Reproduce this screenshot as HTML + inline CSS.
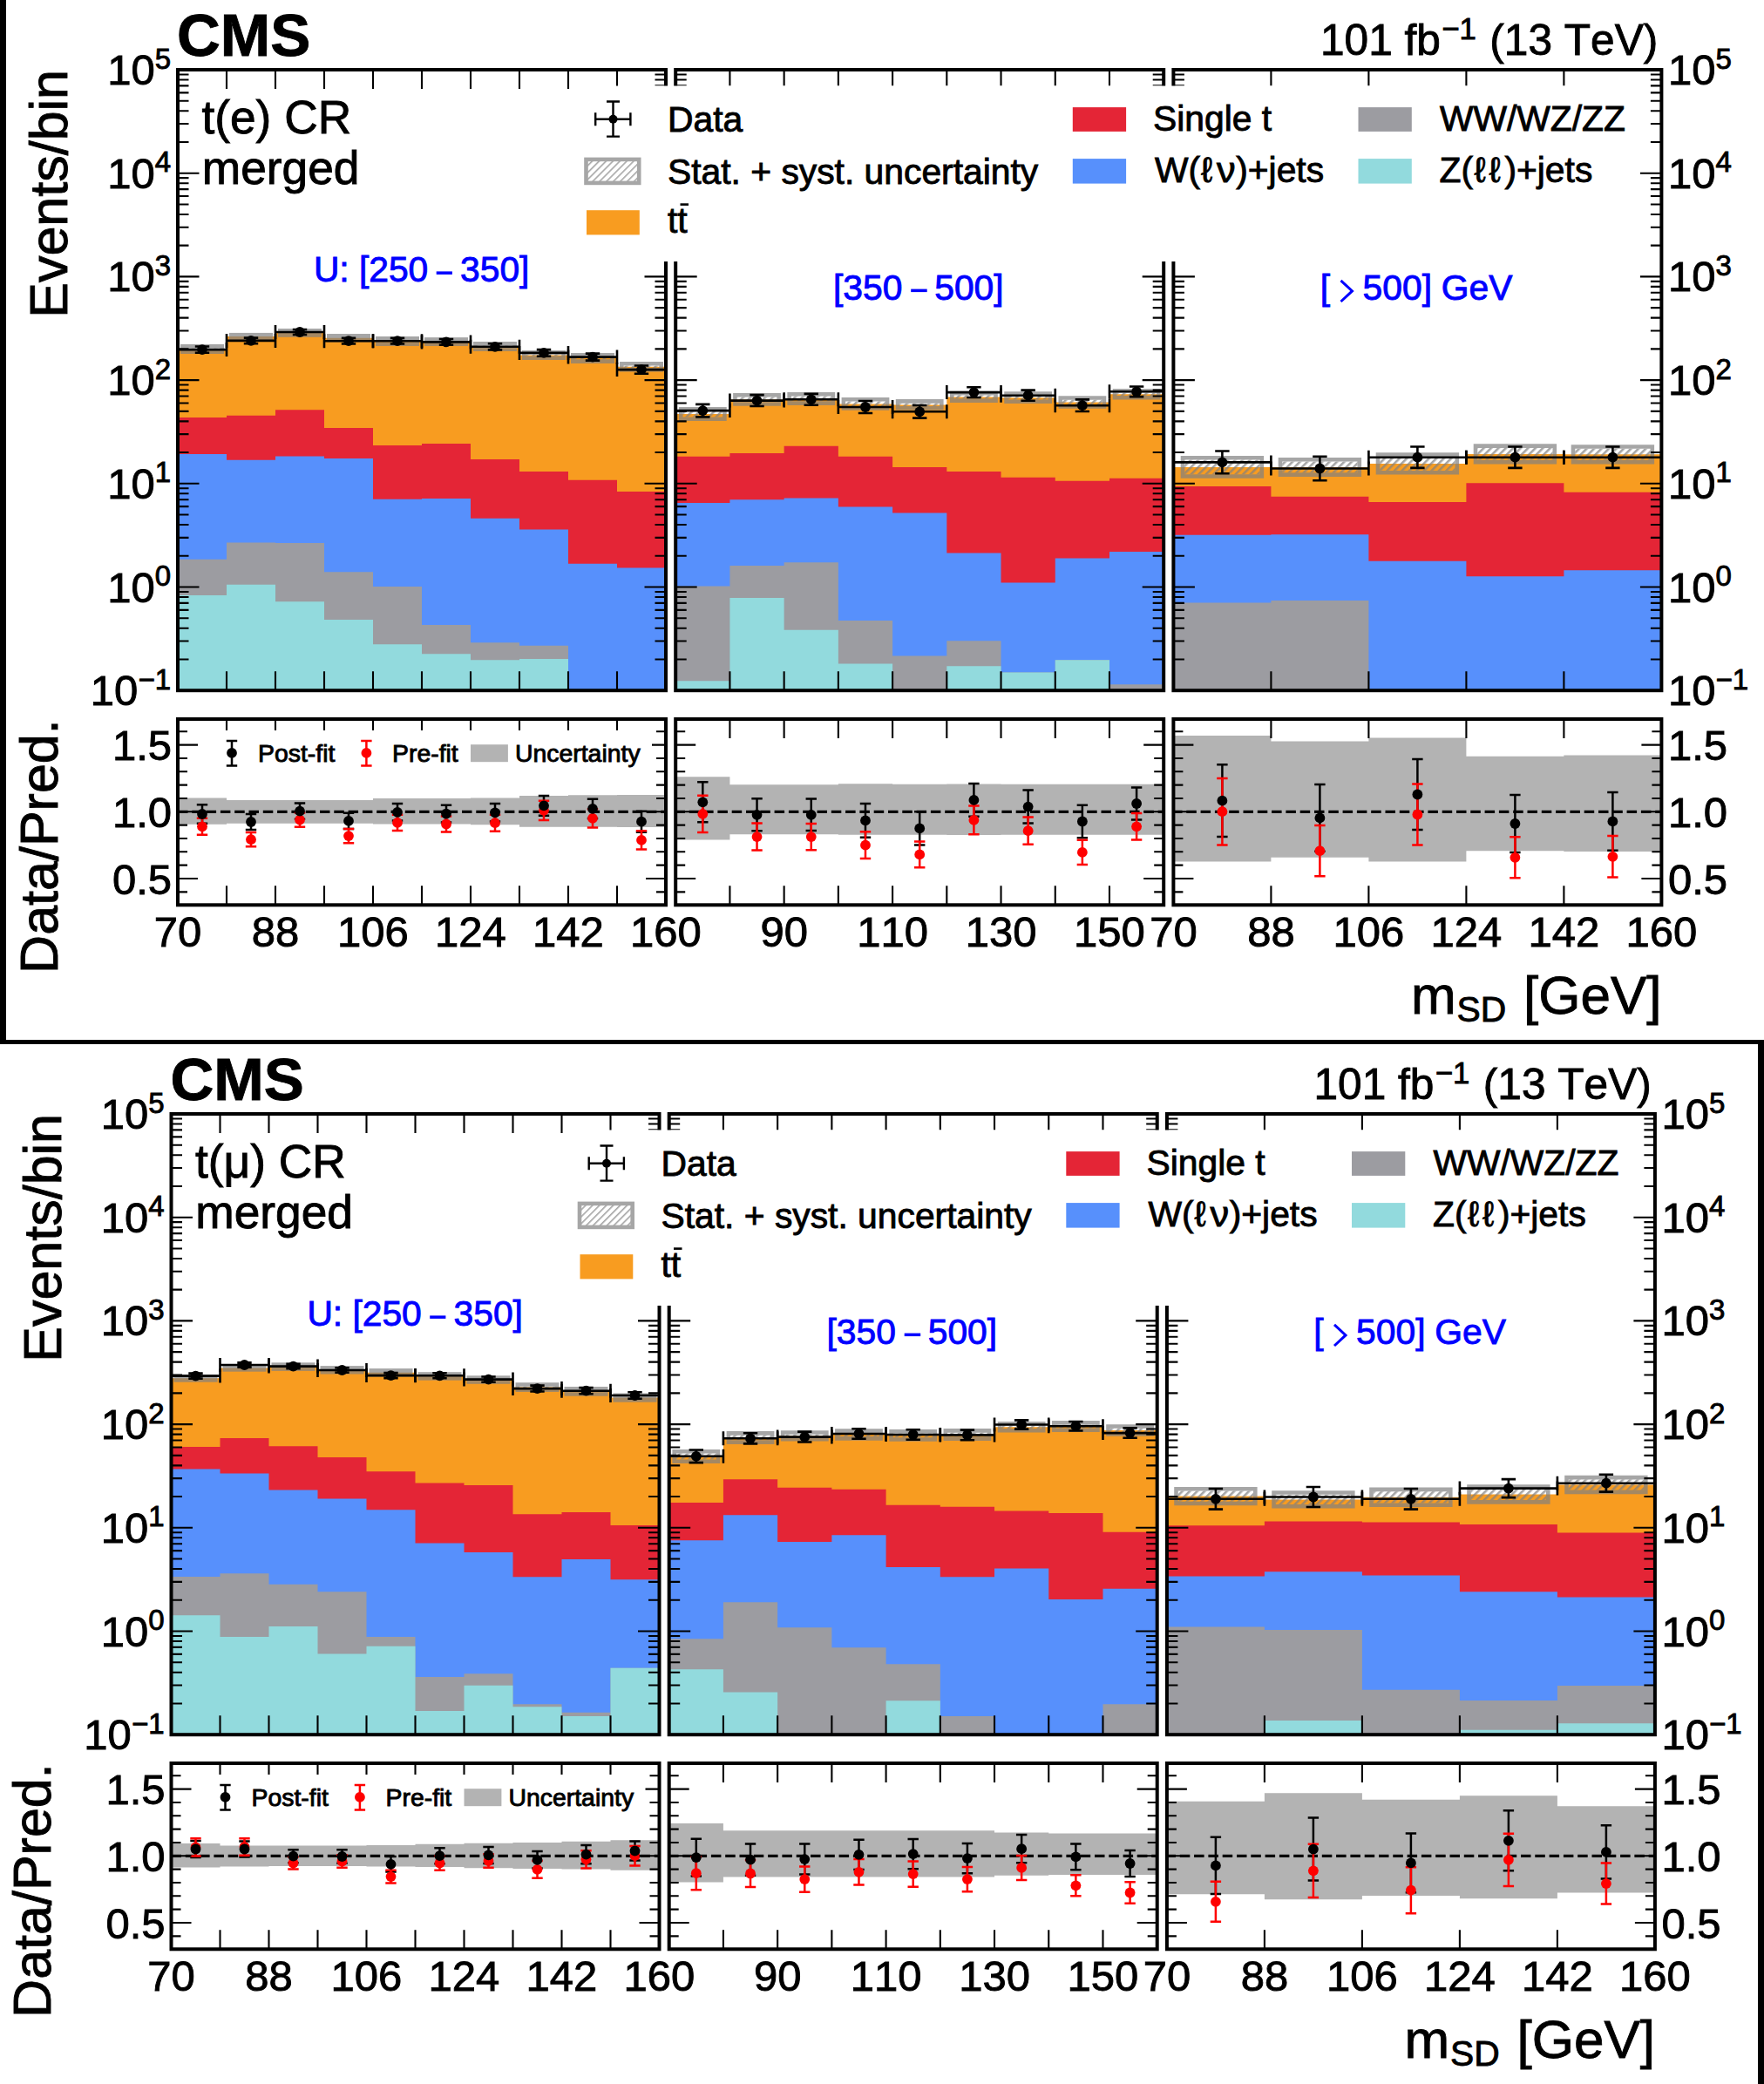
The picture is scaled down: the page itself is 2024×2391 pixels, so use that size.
<!DOCTYPE html><html><head><meta charset="utf-8"><style>html,body{margin:0;padding:0;background:#fff;}svg{display:block;}</style></head><body>
<svg width="2024" height="2391" viewBox="0 0 2024 2391">
<defs><pattern id="hatch" patternUnits="userSpaceOnUse" width="6" height="8" patternTransform="rotate(45)"><rect x="0" y="0" width="2.6" height="8" fill="#808080" fill-opacity="0.7"/></pattern><pattern id="hatchL" patternUnits="userSpaceOnUse" width="5.6" height="5.6" patternTransform="rotate(45)"><rect x="0" y="0" width="5.6" height="5.6" fill="#fff"/><rect x="0" y="0" width="1.6" height="5.6" fill="#a6a6a6"/></pattern></defs>
<rect width="2024" height="2391" fill="#fff"/>
<g>
<clipPath id="clipmt0"><rect x="204" y="80" width="560" height="712.2"/></clipPath>
<g clip-path="url(#clipmt0)">
<path d="M204,794.2 L204,400.5 L260,400.5 L260,386 L316,386 L316,381.9 L372,381.9 L372,387.7 L428,387.7 L428,391.5 L484,391.5 L484,392 L540,392 L540,397.5 L596,397.5 L596,407.5 L652,407.5 L652,410.9 L708,410.9 L708,420.8 L764,420.8 L764,794.2 Z" fill="#f89c20"/>
<path d="M204,794.2 L204,479 L260,479 L260,476.7 L316,476.7 L316,470.2 L372,470.2 L372,490.9 L428,490.9 L428,511 L484,511 L484,509 L540,509 L540,527 L596,527 L596,540.9 L652,540.9 L652,550.7 L708,550.7 L708,563.9 L764,563.9 L764,794.2 Z" fill="#e42536"/>
<path d="M204,794.2 L204,521.1 L260,521.1 L260,527.7 L316,527.7 L316,523.4 L372,523.4 L372,526.1 L428,526.1 L428,572.8 L484,572.8 L484,572.1 L540,572.1 L540,594.8 L596,594.8 L596,607.6 L652,607.6 L652,646.8 L708,646.8 L708,651.4 L764,651.4 L764,794.2 Z" fill="#5790fc"/>
<path d="M204,794.2 L204,641.8 L260,641.8 L260,622.4 L316,622.4 L316,623 L372,623 L372,656.3 L428,656.3 L428,673 L484,673 L484,717.1 L540,717.1 L540,737.2 L596,737.2 L596,740.8 L652,740.8 L652,792.2 L708,792.2 L708,792.2 L764,792.2 L764,794.2 Z" fill="#9c9ca1"/>
<path d="M204,794.2 L204,682.9 L260,682.9 L260,670.8 L316,670.8 L316,690.2 L372,690.2 L372,710.9 L428,710.9 L428,739.2 L484,739.2 L484,750.3 L540,750.3 L540,757.2 L596,757.2 L596,755.9 L652,755.9 L652,792.2 L708,792.2 L708,792.2 L764,792.2 L764,794.2 Z" fill="#92dadd"/>
<path d="M207,395 H257 V406 H207 Z M211.6,399.6 V401.4 H252.4 V399.6 Z" fill="#808080" fill-opacity="0.7"/>
<rect x="211.6" y="399.6" width="40.8" height="1.8" fill="url(#hatch)"/>
<rect x="263" y="381.9" width="50" height="8.2" fill="#808080" fill-opacity="0.7"/>
<rect x="319" y="377" width="50" height="9.8" fill="#808080" fill-opacity="0.7"/>
<rect x="375" y="383" width="50" height="9.4" fill="#808080" fill-opacity="0.7"/>
<path d="M431,386 H481 V397 H431 Z M435.6,390.6 V392.4 H476.4 V390.6 Z" fill="#808080" fill-opacity="0.7"/>
<rect x="435.6" y="390.6" width="40.8" height="1.8" fill="url(#hatch)"/>
<rect x="487" y="387.1" width="50" height="9.9" fill="#808080" fill-opacity="0.7"/>
<path d="M543,392 H593 V403.1 H543 Z M547.6,396.6 V398.5 H588.4 V396.6 Z" fill="#808080" fill-opacity="0.7"/>
<rect x="547.6" y="396.6" width="40.8" height="1.9" fill="url(#hatch)"/>
<path d="M599,402 H649 V413 H599 Z M603.6,406.6 V408.4 H644.4 V406.6 Z" fill="#808080" fill-opacity="0.7"/>
<rect x="603.6" y="406.6" width="40.8" height="1.8" fill="url(#hatch)"/>
<path d="M655,404.9 H705 V416.9 H655 Z M659.6,409.5 V412.3 H700.4 V409.5 Z" fill="#808080" fill-opacity="0.7"/>
<rect x="659.6" y="409.5" width="40.8" height="2.8" fill="url(#hatch)"/>
<path d="M711,415 H761 V426.6 H711 Z M715.6,419.6 V422 H756.4 V419.6 Z" fill="#808080" fill-opacity="0.7"/>
<rect x="715.6" y="419.6" width="40.8" height="2.4" fill="url(#hatch)"/>
<path d="M204,401.1 H260 M204,393.1 V409.1 M260,393.1 V409.1 M232,397.43 V404.77 M223.8,397.43 H240.2 M223.8,404.77 H240.2" stroke="#000" stroke-width="2.6" fill="none"/>
<circle cx="232" cy="401.1" r="5.9" fill="#000"/>
<path d="M260,390.9 H316 M260,382.9 V398.9 M316,382.9 V398.9 M288,387.58 V394.22 M279.8,387.58 H296.2 M279.8,394.22 H296.2" stroke="#000" stroke-width="2.6" fill="none"/>
<circle cx="288" cy="390.9" r="5.9" fill="#000"/>
<path d="M316,381 H372 M316,373 V389 M372,373 V389 M344,377.98 V384.02 M335.8,377.98 H352.2 M335.8,384.02 H352.2" stroke="#000" stroke-width="2.6" fill="none"/>
<circle cx="344" cy="381" r="5.9" fill="#000"/>
<path d="M372,391.2 H428 M372,383.2 V399.2 M428,383.2 V399.2 M400,387.87 V394.53 M391.8,387.87 H408.2 M391.8,394.53 H408.2" stroke="#000" stroke-width="2.6" fill="none"/>
<circle cx="400" cy="391.2" r="5.9" fill="#000"/>
<path d="M428,391.2 H484 M428,383.2 V399.2 M484,383.2 V399.2 M456,387.87 V394.53 M447.8,387.87 H464.2 M447.8,394.53 H464.2" stroke="#000" stroke-width="2.6" fill="none"/>
<circle cx="456" cy="391.2" r="5.9" fill="#000"/>
<path d="M484,392.4 H540 M484,384.4 V400.4 M540,384.4 V400.4 M512,389.03 V395.77 M503.8,389.03 H520.2 M503.8,395.77 H520.2" stroke="#000" stroke-width="2.6" fill="none"/>
<circle cx="512" cy="392.4" r="5.9" fill="#000"/>
<path d="M540,397.8 H596 M540,389.8 V405.8 M596,389.8 V405.8 M568,394.25 V401.35 M559.8,394.25 H576.2 M559.8,401.35 H576.2" stroke="#000" stroke-width="2.6" fill="none"/>
<circle cx="568" cy="397.8" r="5.9" fill="#000"/>
<path d="M596,404.9 H652 M596,396.9 V412.9 M652,396.9 V412.9 M624,401.09 V408.71 M615.8,401.09 H632.2 M615.8,408.71 H632.2" stroke="#000" stroke-width="2.6" fill="none"/>
<circle cx="624" cy="404.9" r="5.9" fill="#000"/>
<path d="M652,409.6 H708 M652,401.6 V417.6 M708,401.6 V417.6 M680,405.61 V413.59 M671.8,405.61 H688.2 M671.8,413.59 H688.2" stroke="#000" stroke-width="2.6" fill="none"/>
<circle cx="680" cy="409.6" r="5.9" fill="#000"/>
<path d="M708,424.1 H764 M708,416.1 V432.1 M764,416.1 V432.1 M736,419.51 V428.69 M727.8,419.51 H744.2 M727.8,428.69 H744.2" stroke="#000" stroke-width="2.6" fill="none"/>
<circle cx="736" cy="424.1" r="5.9" fill="#000"/>
</g>
<clipPath id="cliprt0"><rect x="204" y="825" width="560" height="213.3"/></clipPath>
<g clip-path="url(#cliprt0)">
<path d="M204,915.6 L260,915.6 L260,917.9 L316,917.9 L316,917.9 L372,917.9 L372,917.9 L428,917.9 L428,915.9 L484,915.9 L484,915.9 L540,915.9 L540,915.4 L596,915.4 L596,912.9 L652,912.9 L652,912.3 L708,912.3 L708,912 L764,912 L764,949.1 L708,949.1 L708,948.8 L652,948.8 L652,948.8 L596,948.8 L596,946.3 L540,946.3 L540,945.5 L484,945.5 L484,945.5 L428,945.5 L428,944.7 L372,944.7 L372,944.7 L316,944.7 L316,944.7 L260,944.7 L260,945.8 L204,945.8 Z" fill="#b3b3b3"/>
<line x1="204" y1="931.3" x2="764" y2="931.3" stroke="#000" stroke-width="3.2" stroke-dasharray="11.5,4.8" stroke-dashoffset="0"/>
<path d="M232,923.3 V944.7 M225.8,923.3 H238.2 M225.8,944.7 H238.2" stroke="#000" stroke-width="2.5" fill="none"/>
<path d="M288,934 V952 M281.8,934 H294.2 M281.8,952 H294.2" stroke="#000" stroke-width="2.5" fill="none"/>
<path d="M344,921.6 V939.8 M337.8,921.6 H350.2 M337.8,939.8 H350.2" stroke="#000" stroke-width="2.5" fill="none"/>
<path d="M400,932.8 V951 M393.8,932.8 H406.2 M393.8,951 H406.2" stroke="#000" stroke-width="2.5" fill="none"/>
<path d="M456,922.1 V941.5 M449.8,922.1 H462.2 M449.8,941.5 H462.2" stroke="#000" stroke-width="2.5" fill="none"/>
<path d="M512,923.8 V943.4 M505.8,923.8 H518.2 M505.8,943.4 H518.2" stroke="#000" stroke-width="2.5" fill="none"/>
<path d="M568,922.1 V942.5 M561.8,922.1 H574.2 M561.8,942.5 H574.2" stroke="#000" stroke-width="2.5" fill="none"/>
<path d="M624,913.1 V935.7 M617.8,913.1 H630.2 M617.8,935.7 H630.2" stroke="#000" stroke-width="2.5" fill="none"/>
<path d="M680,916.7 V939.1 M673.8,916.7 H686.2 M673.8,939.1 H686.2" stroke="#000" stroke-width="2.5" fill="none"/>
<path d="M736,930.7 V954.7 M729.8,930.7 H742.2 M729.8,954.7 H742.2" stroke="#000" stroke-width="2.5" fill="none"/>
<path d="M232,938.8 V957.8 M225.8,938.8 H238.2 M225.8,957.8 H238.2" stroke="#ff0000" stroke-width="2.5" fill="none"/>
<path d="M288,955.1 V971.3 M281.8,955.1 H294.2 M281.8,971.3 H294.2" stroke="#ff0000" stroke-width="2.5" fill="none"/>
<path d="M344,932.4 V948.8 M337.8,932.4 H350.2 M337.8,948.8 H350.2" stroke="#ff0000" stroke-width="2.5" fill="none"/>
<path d="M400,951 V967.2 M393.8,951 H406.2 M393.8,967.2 H406.2" stroke="#ff0000" stroke-width="2.5" fill="none"/>
<path d="M456,934.7 V952.9 M449.8,934.7 H462.2 M449.8,952.9 H462.2" stroke="#ff0000" stroke-width="2.5" fill="none"/>
<path d="M512,936.5 V954.5 M505.8,936.5 H518.2 M505.8,954.5 H518.2" stroke="#ff0000" stroke-width="2.5" fill="none"/>
<path d="M568,934.7 V953.7 M561.8,934.7 H574.2 M561.8,953.7 H574.2" stroke="#ff0000" stroke-width="2.5" fill="none"/>
<path d="M624,918.8 V941 M617.8,918.8 H630.2 M617.8,941 H630.2" stroke="#ff0000" stroke-width="2.5" fill="none"/>
<path d="M680,928.2 V949.6 M673.8,928.2 H686.2 M673.8,949.6 H686.2" stroke="#ff0000" stroke-width="2.5" fill="none"/>
<path d="M736,953.2 V974.6 M729.8,953.2 H742.2 M729.8,974.6 H742.2" stroke="#ff0000" stroke-width="2.5" fill="none"/>
<circle cx="232" cy="948.3" r="5.9" fill="#ff0000"/>
<circle cx="288" cy="963.2" r="5.9" fill="#ff0000"/>
<circle cx="344" cy="940.6" r="5.9" fill="#ff0000"/>
<circle cx="400" cy="959.1" r="5.9" fill="#ff0000"/>
<circle cx="456" cy="943.8" r="5.9" fill="#ff0000"/>
<circle cx="512" cy="945.5" r="5.9" fill="#ff0000"/>
<circle cx="568" cy="944.2" r="5.9" fill="#ff0000"/>
<circle cx="624" cy="929.9" r="5.9" fill="#ff0000"/>
<circle cx="680" cy="938.9" r="5.9" fill="#ff0000"/>
<circle cx="736" cy="963.9" r="5.9" fill="#ff0000"/>
<circle cx="232" cy="934" r="5.9" fill="#000"/>
<circle cx="288" cy="943" r="5.9" fill="#000"/>
<circle cx="344" cy="930.7" r="5.9" fill="#000"/>
<circle cx="400" cy="941.9" r="5.9" fill="#000"/>
<circle cx="456" cy="931.8" r="5.9" fill="#000"/>
<circle cx="512" cy="933.6" r="5.9" fill="#000"/>
<circle cx="568" cy="932.3" r="5.9" fill="#000"/>
<circle cx="624" cy="924.4" r="5.9" fill="#000"/>
<circle cx="680" cy="927.9" r="5.9" fill="#000"/>
<circle cx="736" cy="942.7" r="5.9" fill="#000"/>
</g>
<clipPath id="clipmt1"><rect x="775.2" y="80" width="560" height="712.2"/></clipPath>
<g clip-path="url(#clipmt1)">
<path d="M775.2,794.2 L775.2,475 L837.42,475 L837.42,458.4 L899.64,458.4 L899.64,457.5 L961.87,457.5 L961.87,463.4 L1024.09,463.4 L1024.09,464.4 L1086.31,464.4 L1086.31,455.4 L1148.53,455.4 L1148.53,456.2 L1210.76,456.2 L1210.76,461.5 L1272.98,461.5 L1272.98,452.3 L1335.2,452.3 L1335.2,794.2 Z" fill="#f89c20"/>
<path d="M775.2,794.2 L775.2,523.8 L837.42,523.8 L837.42,519.9 L899.64,519.9 L899.64,511.7 L961.87,511.7 L961.87,523.8 L1024.09,523.8 L1024.09,536 L1086.31,536 L1086.31,540.9 L1148.53,540.9 L1148.53,547.8 L1210.76,547.8 L1210.76,551.8 L1272.98,551.8 L1272.98,548.8 L1335.2,548.8 L1335.2,794.2 Z" fill="#e42536"/>
<path d="M775.2,794.2 L775.2,577.1 L837.42,577.1 L837.42,573.2 L899.64,573.2 L899.64,571.5 L961.87,571.5 L961.87,581.4 L1024.09,581.4 L1024.09,588.6 L1086.31,588.6 L1086.31,634.6 L1148.53,634.6 L1148.53,668.5 L1210.76,668.5 L1210.76,640.6 L1272.98,640.6 L1272.98,633 L1335.2,633 L1335.2,794.2 Z" fill="#5790fc"/>
<path d="M775.2,794.2 L775.2,672.5 L837.42,672.5 L837.42,649.1 L899.64,649.1 L899.64,645.2 L961.87,645.2 L961.87,711.9 L1024.09,711.9 L1024.09,752.4 L1086.31,752.4 L1086.31,735.3 L1148.53,735.3 L1148.53,771.4 L1210.76,771.4 L1210.76,757.3 L1272.98,757.3 L1272.98,785.2 L1335.2,785.2 L1335.2,794.2 Z" fill="#9c9ca1"/>
<path d="M775.2,794.2 L775.2,781.3 L837.42,781.3 L837.42,685.9 L899.64,685.9 L899.64,722.8 L961.87,722.8 L961.87,761.6 L1024.09,761.6 L1024.09,792.2 L1086.31,792.2 L1086.31,764.2 L1148.53,764.2 L1148.53,771.4 L1210.76,771.4 L1210.76,757.3 L1272.98,757.3 L1272.98,792.2 L1335.2,792.2 L1335.2,794.2 Z" fill="#92dadd"/>
<path d="M778.9,467 H833.72 V483 H778.9 Z M783.5,471.6 V478.4 H829.12 V471.6 Z" fill="#808080" fill-opacity="0.7"/>
<rect x="783.5" y="471.6" width="45.62" height="6.8" fill="url(#hatch)"/>
<path d="M841.12,451 H895.94 V465.8 H841.12 Z M845.72,455.6 V461.2 H891.34 V455.6 Z" fill="#808080" fill-opacity="0.7"/>
<rect x="845.72" y="455.6" width="45.62" height="5.6" fill="url(#hatch)"/>
<path d="M903.34,450 H958.17 V464.9 H903.34 Z M907.94,454.6 V460.3 H953.57 V454.6 Z" fill="#808080" fill-opacity="0.7"/>
<rect x="907.94" y="454.6" width="45.62" height="5.7" fill="url(#hatch)"/>
<path d="M965.57,456 H1020.39 V470.8 H965.57 Z M970.17,460.6 V466.2 H1015.79 V460.6 Z" fill="#808080" fill-opacity="0.7"/>
<rect x="970.17" y="460.6" width="45.62" height="5.6" fill="url(#hatch)"/>
<path d="M1027.79,458.1 H1082.61 V470.6 H1027.79 Z M1032.39,462.7 V466 H1078.01 V462.7 Z" fill="#808080" fill-opacity="0.7"/>
<rect x="1032.39" y="462.7" width="45.62" height="3.3" fill="url(#hatch)"/>
<path d="M1090.01,448.8 H1144.83 V461.9 H1090.01 Z M1094.61,453.4 V457.3 H1140.23 V453.4 Z" fill="#808080" fill-opacity="0.7"/>
<rect x="1094.61" y="453.4" width="45.62" height="3.9" fill="url(#hatch)"/>
<path d="M1152.23,449.3 H1207.06 V463.1 H1152.23 Z M1156.83,453.9 V458.5 H1202.46 V453.9 Z" fill="#808080" fill-opacity="0.7"/>
<rect x="1156.83" y="453.9" width="45.62" height="4.6" fill="url(#hatch)"/>
<path d="M1214.46,454.2 H1269.28 V468.8 H1214.46 Z M1219.06,458.8 V464.2 H1264.68 V458.8 Z" fill="#808080" fill-opacity="0.7"/>
<rect x="1219.06" y="458.8" width="45.62" height="5.4" fill="url(#hatch)"/>
<path d="M1276.68,446 H1331.5 V458.6 H1276.68 Z M1281.28,450.6 V454 H1326.9 V450.6 Z" fill="#808080" fill-opacity="0.7"/>
<rect x="1281.28" y="450.6" width="45.62" height="3.4" fill="url(#hatch)"/>
<path d="M775.2,471.1 H837.42 M775.2,463.1 V479.1 M837.42,463.1 V479.1 M806.31,463.87 V478.33 M798.11,463.87 H814.51 M798.11,478.33 H814.51" stroke="#000" stroke-width="2.6" fill="none"/>
<circle cx="806.31" cy="471.1" r="5.9" fill="#000"/>
<path d="M837.42,459.6 H899.64 M837.42,451.6 V467.6 M899.64,451.6 V467.6 M868.53,453.13 V466.07 M860.33,453.13 H876.73 M860.33,466.07 H876.73" stroke="#000" stroke-width="2.6" fill="none"/>
<circle cx="868.53" cy="459.6" r="5.9" fill="#000"/>
<path d="M899.64,458.3 H961.87 M899.64,450.3 V466.3 M961.87,450.3 V466.3 M930.76,451.91 V464.69 M922.56,451.91 H938.96 M922.56,464.69 H938.96" stroke="#000" stroke-width="2.6" fill="none"/>
<circle cx="930.76" cy="458.3" r="5.9" fill="#000"/>
<path d="M961.87,467 H1024.09 M961.87,459 V475 M1024.09,459 V475 M992.98,460.05 V473.95 M984.78,460.05 H1001.18 M984.78,473.95 H1001.18" stroke="#000" stroke-width="2.6" fill="none"/>
<circle cx="992.98" cy="467" r="5.9" fill="#000"/>
<path d="M1024.09,472.3 H1086.31 M1024.09,464.3 V480.3 M1086.31,464.3 V480.3 M1055.2,464.98 V479.62 M1047,464.98 H1063.4 M1047,479.62 H1063.4" stroke="#000" stroke-width="2.6" fill="none"/>
<circle cx="1055.2" cy="472.3" r="5.9" fill="#000"/>
<path d="M1086.31,450.1 H1148.53 M1086.31,442.1 V458.1 M1148.53,442.1 V458.1 M1117.42,444.2 V456 M1109.22,444.2 H1125.62 M1109.22,456 H1125.62" stroke="#000" stroke-width="2.6" fill="none"/>
<circle cx="1117.42" cy="450.1" r="5.9" fill="#000"/>
<path d="M1148.53,453.7 H1210.76 M1148.53,445.7 V461.7 M1210.76,445.7 V461.7 M1179.64,447.59 V459.81 M1171.44,447.59 H1187.84 M1171.44,459.81 H1187.84" stroke="#000" stroke-width="2.6" fill="none"/>
<circle cx="1179.64" cy="453.7" r="5.9" fill="#000"/>
<path d="M1210.76,465.2 H1272.98 M1210.76,457.2 V473.2 M1272.98,457.2 V473.2 M1241.87,458.37 V472.03 M1233.67,458.37 H1250.07 M1233.67,472.03 H1250.07" stroke="#000" stroke-width="2.6" fill="none"/>
<circle cx="1241.87" cy="465.2" r="5.9" fill="#000"/>
<path d="M1272.98,449.3 H1335.2 M1272.98,441.3 V457.3 M1335.2,441.3 V457.3 M1304.09,443.44 V455.16 M1295.89,443.44 H1312.29 M1295.89,455.16 H1312.29" stroke="#000" stroke-width="2.6" fill="none"/>
<circle cx="1304.09" cy="449.3" r="5.9" fill="#000"/>
</g>
<clipPath id="cliprt1"><rect x="775.2" y="825" width="560" height="213.3"/></clipPath>
<g clip-path="url(#cliprt1)">
<path d="M775.2,891.3 L837.42,891.3 L837.42,900.3 L899.64,900.3 L899.64,900.3 L961.87,900.3 L961.87,899.3 L1024.09,899.3 L1024.09,899.8 L1086.31,899.8 L1086.31,899.5 L1148.53,899.5 L1148.53,899.8 L1210.76,899.8 L1210.76,899.8 L1272.98,899.8 L1272.98,899.8 L1335.2,899.8 L1335.2,957.8 L1272.98,957.8 L1272.98,957.8 L1210.76,957.8 L1210.76,957.8 L1148.53,957.8 L1148.53,958 L1086.31,958 L1086.31,957.8 L1024.09,957.8 L1024.09,957.8 L961.87,957.8 L961.87,957.3 L899.64,957.3 L899.64,957.3 L837.42,957.3 L837.42,963.6 L775.2,963.6 Z" fill="#b3b3b3"/>
<line x1="775.2" y1="931.3" x2="1335.2" y2="931.3" stroke="#000" stroke-width="3.2" stroke-dasharray="11.5,4.8" stroke-dashoffset="0.7"/>
<path d="M806.31,897.3 V943.3 M800.11,897.3 H812.51 M800.11,943.3 H812.51" stroke="#000" stroke-width="2.5" fill="none"/>
<path d="M868.53,916.3 V953.3 M862.33,916.3 H874.73 M862.33,953.3 H874.73" stroke="#000" stroke-width="2.5" fill="none"/>
<path d="M930.76,916.5 V953.1 M924.56,916.5 H936.96 M924.56,953.1 H936.96" stroke="#000" stroke-width="2.5" fill="none"/>
<path d="M992.98,922.1 V960.7 M986.78,922.1 H999.18 M986.78,960.7 H999.18" stroke="#000" stroke-width="2.5" fill="none"/>
<path d="M1055.2,931.3 V969.5 M1049,931.3 H1061.4 M1049,969.5 H1061.4" stroke="#000" stroke-width="2.5" fill="none"/>
<path d="M1117.42,899 V936.8 M1111.22,899 H1123.62 M1111.22,936.8 H1123.62" stroke="#000" stroke-width="2.5" fill="none"/>
<path d="M1179.64,906.6 V944.6 M1173.44,906.6 H1185.84 M1173.44,944.6 H1185.84" stroke="#000" stroke-width="2.5" fill="none"/>
<path d="M1241.87,923.7 V961.3 M1235.67,923.7 H1248.07 M1235.67,961.3 H1248.07" stroke="#000" stroke-width="2.5" fill="none"/>
<path d="M1304.09,903.5 V940.5 M1297.89,903.5 H1310.29 M1297.89,940.5 H1310.29" stroke="#000" stroke-width="2.5" fill="none"/>
<path d="M806.31,912.7 V954.9 M800.11,912.7 H812.51 M800.11,954.9 H812.51" stroke="#ff0000" stroke-width="2.5" fill="none"/>
<path d="M868.53,944.6 V975.6 M862.33,944.6 H874.73 M862.33,975.6 H874.73" stroke="#ff0000" stroke-width="2.5" fill="none"/>
<path d="M930.76,944.9 V975.3 M924.56,944.9 H936.96 M924.56,975.3 H936.96" stroke="#ff0000" stroke-width="2.5" fill="none"/>
<path d="M992.98,954.3 V985.1 M986.78,954.3 H999.18 M986.78,985.1 H999.18" stroke="#ff0000" stroke-width="2.5" fill="none"/>
<path d="M1055.2,965.6 V995.2 M1049,965.6 H1061.4 M1049,995.2 H1061.4" stroke="#ff0000" stroke-width="2.5" fill="none"/>
<path d="M1117.42,924.5 V957.3 M1111.22,924.5 H1123.62 M1111.22,957.3 H1123.62" stroke="#ff0000" stroke-width="2.5" fill="none"/>
<path d="M1179.64,937.6 V968.8 M1173.44,937.6 H1185.84 M1173.44,968.8 H1185.84" stroke="#ff0000" stroke-width="2.5" fill="none"/>
<path d="M1241.87,963.7 V992.1 M1235.67,963.7 H1248.07 M1235.67,992.1 H1248.07" stroke="#ff0000" stroke-width="2.5" fill="none"/>
<path d="M1304.09,933.1 V963.5 M1297.89,933.1 H1310.29 M1297.89,963.5 H1310.29" stroke="#ff0000" stroke-width="2.5" fill="none"/>
<circle cx="806.31" cy="933.8" r="5.9" fill="#ff0000"/>
<circle cx="868.53" cy="960.1" r="5.9" fill="#ff0000"/>
<circle cx="930.76" cy="960.1" r="5.9" fill="#ff0000"/>
<circle cx="992.98" cy="969.7" r="5.9" fill="#ff0000"/>
<circle cx="1055.2" cy="980.4" r="5.9" fill="#ff0000"/>
<circle cx="1117.42" cy="940.9" r="5.9" fill="#ff0000"/>
<circle cx="1179.64" cy="953.2" r="5.9" fill="#ff0000"/>
<circle cx="1241.87" cy="977.9" r="5.9" fill="#ff0000"/>
<circle cx="1304.09" cy="948.3" r="5.9" fill="#ff0000"/>
<circle cx="806.31" cy="920.3" r="5.9" fill="#000"/>
<circle cx="868.53" cy="934.8" r="5.9" fill="#000"/>
<circle cx="930.76" cy="934.8" r="5.9" fill="#000"/>
<circle cx="992.98" cy="941.4" r="5.9" fill="#000"/>
<circle cx="1055.2" cy="950.4" r="5.9" fill="#000"/>
<circle cx="1117.42" cy="917.9" r="5.9" fill="#000"/>
<circle cx="1179.64" cy="925.6" r="5.9" fill="#000"/>
<circle cx="1241.87" cy="942.5" r="5.9" fill="#000"/>
<circle cx="1304.09" cy="922" r="5.9" fill="#000"/>
</g>
<clipPath id="clipmt2"><rect x="1346.4" y="80" width="560" height="712.2"/></clipPath>
<g clip-path="url(#clipmt2)">
<path d="M1346.4,794.2 L1346.4,535.9 L1458.4,535.9 L1458.4,536 L1570.4,536 L1570.4,531.9 L1682.4,531.9 L1682.4,520.9 L1794.4,520.9 L1794.4,521.3 L1906.4,521.3 L1906.4,794.2 Z" fill="#f89c20"/>
<path d="M1346.4,794.2 L1346.4,557.9 L1458.4,557.9 L1458.4,569.8 L1570.4,569.8 L1570.4,576 L1682.4,576 L1682.4,554.3 L1794.4,554.3 L1794.4,564.8 L1906.4,564.8 L1906.4,794.2 Z" fill="#e42536"/>
<path d="M1346.4,794.2 L1346.4,613.8 L1458.4,613.8 L1458.4,613.2 L1570.4,613.2 L1570.4,643.7 L1682.4,643.7 L1682.4,661.2 L1794.4,661.2 L1794.4,654.3 L1906.4,654.3 L1906.4,794.2 Z" fill="#5790fc"/>
<path d="M1346.4,794.2 L1346.4,691.4 L1458.4,691.4 L1458.4,689.1 L1570.4,689.1 L1570.4,792.2 L1682.4,792.2 L1682.4,792.2 L1794.4,792.2 L1794.4,792.2 L1906.4,792.2 L1906.4,794.2 Z" fill="#9c9ca1"/>
<path d="M1346.4,794.2 L1346.4,792.2 L1458.4,792.2 L1458.4,792.2 L1570.4,792.2 L1570.4,792.2 L1682.4,792.2 L1682.4,792.2 L1794.4,792.2 L1794.4,792.2 L1906.4,792.2 L1906.4,794.2 Z" fill="#92dadd"/>
<path d="M1354.7,523 H1450.1 V548.8 H1354.7 Z M1359.3,527.6 V544.2 H1445.5 V527.6 Z" fill="#808080" fill-opacity="0.7"/>
<rect x="1359.3" y="527.6" width="86.2" height="16.6" fill="url(#hatch)"/>
<path d="M1466.7,525 H1562.1 V546.9 H1466.7 Z M1471.3,529.6 V542.3 H1557.5 V529.6 Z" fill="#808080" fill-opacity="0.7"/>
<rect x="1471.3" y="529.6" width="86.2" height="12.7" fill="url(#hatch)"/>
<path d="M1578.7,519.3 H1674.1 V544.5 H1578.7 Z M1583.3,523.9 V539.9 H1669.5 V523.9 Z" fill="#808080" fill-opacity="0.7"/>
<rect x="1583.3" y="523.9" width="86.2" height="16" fill="url(#hatch)"/>
<path d="M1690.7,509.3 H1786.1 V532.4 H1690.7 Z M1695.3,513.9 V527.8 H1781.5 V513.9 Z" fill="#808080" fill-opacity="0.7"/>
<rect x="1695.3" y="513.9" width="86.2" height="13.9" fill="url(#hatch)"/>
<path d="M1802.7,510.2 H1898.1 V532.4 H1802.7 Z M1807.3,514.8 V527.8 H1893.5 V514.8 Z" fill="#808080" fill-opacity="0.7"/>
<rect x="1807.3" y="514.8" width="86.2" height="13" fill="url(#hatch)"/>
<path d="M1346.4,530.4 H1458.4 M1346.4,522.4 V538.4 M1458.4,522.4 V538.4 M1402.4,517.57 V543.23 M1394.2,517.57 H1410.6 M1394.2,543.23 H1410.6" stroke="#000" stroke-width="2.6" fill="none"/>
<circle cx="1402.4" cy="530.4" r="5.9" fill="#000"/>
<path d="M1458.4,537.5 H1570.4 M1458.4,529.5 V545.5 M1570.4,529.5 V545.5 M1514.4,523.76 V551.24 M1506.2,523.76 H1522.6 M1506.2,551.24 H1522.6" stroke="#000" stroke-width="2.6" fill="none"/>
<circle cx="1514.4" cy="537.5" r="5.9" fill="#000"/>
<path d="M1570.4,524.7 H1682.4 M1570.4,516.7 V532.7 M1682.4,516.7 V532.7 M1626.4,512.55 V536.85 M1618.2,512.55 H1634.6 M1618.2,536.85 H1634.6" stroke="#000" stroke-width="2.6" fill="none"/>
<circle cx="1626.4" cy="524.7" r="5.9" fill="#000"/>
<path d="M1682.4,524.7 H1794.4 M1682.4,516.7 V532.7 M1794.4,516.7 V532.7 M1738.4,512.55 V536.85 M1730.2,512.55 H1746.6 M1730.2,536.85 H1746.6" stroke="#000" stroke-width="2.6" fill="none"/>
<circle cx="1738.4" cy="524.7" r="5.9" fill="#000"/>
<path d="M1794.4,524.7 H1906.4 M1794.4,516.7 V532.7 M1906.4,516.7 V532.7 M1850.4,512.55 V536.85 M1842.2,512.55 H1858.6 M1842.2,536.85 H1858.6" stroke="#000" stroke-width="2.6" fill="none"/>
<circle cx="1850.4" cy="524.7" r="5.9" fill="#000"/>
</g>
<clipPath id="cliprt2"><rect x="1346.4" y="825" width="560" height="213.3"/></clipPath>
<g clip-path="url(#cliprt2)">
<path d="M1346.4,844.1 L1458.4,844.1 L1458.4,850.6 L1570.4,850.6 L1570.4,846.4 L1682.4,846.4 L1682.4,867.7 L1794.4,867.7 L1794.4,866.4 L1906.4,866.4 L1906.4,976.9 L1794.4,976.9 L1794.4,976.2 L1682.4,976.2 L1682.4,988.4 L1570.4,988.4 L1570.4,983.8 L1458.4,983.8 L1458.4,988.4 L1346.4,988.4 Z" fill="#b3b3b3"/>
<line x1="1346.4" y1="931.3" x2="1906.4" y2="931.3" stroke="#000" stroke-width="3.2" stroke-dasharray="11.5,4.8" stroke-dashoffset="1.4"/>
<path d="M1402.4,877.3 V960.1 M1396.2,877.3 H1408.6 M1396.2,960.1 H1408.6" stroke="#000" stroke-width="2.5" fill="none"/>
<path d="M1514.4,900 V976.8 M1508.2,900 H1520.6 M1508.2,976.8 H1520.6" stroke="#000" stroke-width="2.5" fill="none"/>
<path d="M1626.4,870.9 V952.1 M1620.2,870.9 H1632.6 M1620.2,952.1 H1632.6" stroke="#000" stroke-width="2.5" fill="none"/>
<path d="M1738.4,912.1 V977.9 M1732.2,912.1 H1744.6 M1732.2,977.9 H1744.6" stroke="#000" stroke-width="2.5" fill="none"/>
<path d="M1850.4,909 V975.8 M1844.2,909 H1856.6 M1844.2,975.8 H1856.6" stroke="#000" stroke-width="2.5" fill="none"/>
<path d="M1402.4,892.9 V969.5 M1396.2,892.9 H1408.6 M1396.2,969.5 H1408.6" stroke="#ff0000" stroke-width="2.5" fill="none"/>
<path d="M1514.4,947.1 V1005.3 M1508.2,947.1 H1520.6 M1508.2,1005.3 H1520.6" stroke="#ff0000" stroke-width="2.5" fill="none"/>
<path d="M1626.4,899.6 V969.4 M1620.2,899.6 H1632.6 M1620.2,969.4 H1632.6" stroke="#ff0000" stroke-width="2.5" fill="none"/>
<path d="M1738.4,960.3 V1007.3 M1732.2,960.3 H1744.6 M1732.2,1007.3 H1744.6" stroke="#ff0000" stroke-width="2.5" fill="none"/>
<path d="M1850.4,959 V1006.6 M1844.2,959 H1856.6 M1844.2,1006.6 H1856.6" stroke="#ff0000" stroke-width="2.5" fill="none"/>
<circle cx="1402.4" cy="931.2" r="5.9" fill="#ff0000"/>
<circle cx="1514.4" cy="976.2" r="5.9" fill="#ff0000"/>
<circle cx="1626.4" cy="934.5" r="5.9" fill="#ff0000"/>
<circle cx="1738.4" cy="983.8" r="5.9" fill="#ff0000"/>
<circle cx="1850.4" cy="982.8" r="5.9" fill="#ff0000"/>
<circle cx="1402.4" cy="918.7" r="5.9" fill="#000"/>
<circle cx="1514.4" cy="938.4" r="5.9" fill="#000"/>
<circle cx="1626.4" cy="911.5" r="5.9" fill="#000"/>
<circle cx="1738.4" cy="945" r="5.9" fill="#000"/>
<circle cx="1850.4" cy="942.4" r="5.9" fill="#000"/>
</g>
<rect x="680" y="98.5" width="1200" height="201.5" fill="#fff"/>
<path d="M260,80 V102 M260,792.2 V770.2 M260,825 V847 M260,1038.3 V1016.3 M316,80 V102 M316,792.2 V770.2 M316,825 V847 M316,1038.3 V1016.3 M372,80 V102 M372,792.2 V770.2 M372,825 V847 M372,1038.3 V1016.3 M428,80 V102 M428,792.2 V770.2 M428,825 V847 M428,1038.3 V1016.3 M484,80 V102 M484,792.2 V770.2 M484,825 V847 M484,1038.3 V1016.3 M540,80 V102 M540,792.2 V770.2 M540,825 V847 M540,1038.3 V1016.3 M596,80 V102 M596,792.2 V770.2 M596,825 V847 M596,1038.3 V1016.3 M652,80 V102 M652,792.2 V770.2 M652,825 V847 M652,1038.3 V1016.3 M708,80 V102 M708,792.2 V770.2 M708,825 V847 M708,1038.3 V1016.3 M204,756.47 H216.5 M764,756.47 H751.5 M204,735.57 H216.5 M764,735.57 H751.5 M204,720.74 H216.5 M764,720.74 H751.5 M204,709.23 H216.5 M764,709.23 H751.5 M204,699.83 H216.5 M764,699.83 H751.5 M204,691.89 H216.5 M764,691.89 H751.5 M204,685 H216.5 M764,685 H751.5 M204,678.93 H216.5 M764,678.93 H751.5 M204,673.5 H228.5 M764,673.5 H739.5 M204,637.77 H216.5 M764,637.77 H751.5 M204,616.87 H216.5 M764,616.87 H751.5 M204,602.04 H216.5 M764,602.04 H751.5 M204,590.53 H216.5 M764,590.53 H751.5 M204,581.13 H216.5 M764,581.13 H751.5 M204,573.19 H216.5 M764,573.19 H751.5 M204,566.3 H216.5 M764,566.3 H751.5 M204,560.23 H216.5 M764,560.23 H751.5 M204,554.8 H228.5 M764,554.8 H739.5 M204,519.07 H216.5 M764,519.07 H751.5 M204,498.17 H216.5 M764,498.17 H751.5 M204,483.34 H216.5 M764,483.34 H751.5 M204,471.83 H216.5 M764,471.83 H751.5 M204,462.43 H216.5 M764,462.43 H751.5 M204,454.49 H216.5 M764,454.49 H751.5 M204,447.6 H216.5 M764,447.6 H751.5 M204,441.53 H216.5 M764,441.53 H751.5 M204,436.1 H228.5 M764,436.1 H739.5 M204,400.37 H216.5 M764,400.37 H751.5 M204,379.47 H216.5 M764,379.47 H751.5 M204,364.64 H216.5 M764,364.64 H751.5 M204,353.13 H216.5 M764,353.13 H751.5 M204,343.73 H216.5 M764,343.73 H751.5 M204,335.79 H216.5 M764,335.79 H751.5 M204,328.9 H216.5 M764,328.9 H751.5 M204,322.83 H216.5 M764,322.83 H751.5 M204,317.4 H228.5 M764,317.4 H739.5 M204,281.67 H216.5 M764,281.67 H751.5 M204,260.77 H216.5 M764,260.77 H751.5 M204,245.94 H216.5 M764,245.94 H751.5 M204,234.43 H216.5 M764,234.43 H751.5 M204,225.03 H216.5 M764,225.03 H751.5 M204,217.09 H216.5 M764,217.09 H751.5 M204,210.2 H216.5 M764,210.2 H751.5 M204,204.13 H216.5 M764,204.13 H751.5 M204,198.7 H228.5 M764,198.7 H739.5 M204,162.97 H216.5 M764,162.97 H751.5 M204,142.07 H216.5 M764,142.07 H751.5 M204,127.24 H216.5 M764,127.24 H751.5 M204,115.73 H216.5 M764,115.73 H751.5 M204,106.33 H216.5 M764,106.33 H751.5 M204,98.39 H216.5 M764,98.39 H751.5 M204,91.5 H216.5 M764,91.5 H751.5 M204,85.43 H216.5 M764,85.43 H751.5 M204,1023.34 H215 M764,1023.34 H753 M204,1008 H227 M764,1008 H741 M204,992.66 H215 M764,992.66 H753 M204,977.32 H215 M764,977.32 H753 M204,961.98 H215 M764,961.98 H753 M204,946.64 H215 M764,946.64 H753 M204,931.3 H227 M764,931.3 H741 M204,915.96 H215 M764,915.96 H753 M204,900.62 H215 M764,900.62 H753 M204,885.28 H215 M764,885.28 H753 M204,869.94 H215 M764,869.94 H753 M204,854.6 H227 M764,854.6 H741 M204,839.26 H215 M764,839.26 H753 M837.42,80 V102 M837.42,792.2 V770.2 M837.42,825 V847 M837.42,1038.3 V1016.3 M899.64,80 V102 M899.64,792.2 V770.2 M899.64,825 V847 M899.64,1038.3 V1016.3 M961.87,80 V102 M961.87,792.2 V770.2 M961.87,825 V847 M961.87,1038.3 V1016.3 M1024.09,80 V102 M1024.09,792.2 V770.2 M1024.09,825 V847 M1024.09,1038.3 V1016.3 M1086.31,80 V102 M1086.31,792.2 V770.2 M1086.31,825 V847 M1086.31,1038.3 V1016.3 M1148.53,80 V102 M1148.53,792.2 V770.2 M1148.53,825 V847 M1148.53,1038.3 V1016.3 M1210.76,80 V102 M1210.76,792.2 V770.2 M1210.76,825 V847 M1210.76,1038.3 V1016.3 M1272.98,80 V102 M1272.98,792.2 V770.2 M1272.98,825 V847 M1272.98,1038.3 V1016.3 M775.2,756.47 H787.7 M1335.2,756.47 H1322.7 M775.2,735.57 H787.7 M1335.2,735.57 H1322.7 M775.2,720.74 H787.7 M1335.2,720.74 H1322.7 M775.2,709.23 H787.7 M1335.2,709.23 H1322.7 M775.2,699.83 H787.7 M1335.2,699.83 H1322.7 M775.2,691.89 H787.7 M1335.2,691.89 H1322.7 M775.2,685 H787.7 M1335.2,685 H1322.7 M775.2,678.93 H787.7 M1335.2,678.93 H1322.7 M775.2,673.5 H799.7 M1335.2,673.5 H1310.7 M775.2,637.77 H787.7 M1335.2,637.77 H1322.7 M775.2,616.87 H787.7 M1335.2,616.87 H1322.7 M775.2,602.04 H787.7 M1335.2,602.04 H1322.7 M775.2,590.53 H787.7 M1335.2,590.53 H1322.7 M775.2,581.13 H787.7 M1335.2,581.13 H1322.7 M775.2,573.19 H787.7 M1335.2,573.19 H1322.7 M775.2,566.3 H787.7 M1335.2,566.3 H1322.7 M775.2,560.23 H787.7 M1335.2,560.23 H1322.7 M775.2,554.8 H799.7 M1335.2,554.8 H1310.7 M775.2,519.07 H787.7 M1335.2,519.07 H1322.7 M775.2,498.17 H787.7 M1335.2,498.17 H1322.7 M775.2,483.34 H787.7 M1335.2,483.34 H1322.7 M775.2,471.83 H787.7 M1335.2,471.83 H1322.7 M775.2,462.43 H787.7 M1335.2,462.43 H1322.7 M775.2,454.49 H787.7 M1335.2,454.49 H1322.7 M775.2,447.6 H787.7 M1335.2,447.6 H1322.7 M775.2,441.53 H787.7 M1335.2,441.53 H1322.7 M775.2,436.1 H799.7 M1335.2,436.1 H1310.7 M775.2,400.37 H787.7 M1335.2,400.37 H1322.7 M775.2,379.47 H787.7 M1335.2,379.47 H1322.7 M775.2,364.64 H787.7 M1335.2,364.64 H1322.7 M775.2,353.13 H787.7 M1335.2,353.13 H1322.7 M775.2,343.73 H787.7 M1335.2,343.73 H1322.7 M775.2,335.79 H787.7 M1335.2,335.79 H1322.7 M775.2,328.9 H787.7 M1335.2,328.9 H1322.7 M775.2,322.83 H787.7 M1335.2,322.83 H1322.7 M775.2,317.4 H799.7 M1335.2,317.4 H1310.7 M775.2,281.67 H787.7 M1335.2,281.67 H1322.7 M775.2,260.77 H787.7 M1335.2,260.77 H1322.7 M775.2,245.94 H787.7 M1335.2,245.94 H1322.7 M775.2,234.43 H787.7 M1335.2,234.43 H1322.7 M775.2,225.03 H787.7 M1335.2,225.03 H1322.7 M775.2,217.09 H787.7 M1335.2,217.09 H1322.7 M775.2,210.2 H787.7 M1335.2,210.2 H1322.7 M775.2,204.13 H787.7 M1335.2,204.13 H1322.7 M775.2,198.7 H799.7 M1335.2,198.7 H1310.7 M775.2,162.97 H787.7 M1335.2,162.97 H1322.7 M775.2,142.07 H787.7 M1335.2,142.07 H1322.7 M775.2,127.24 H787.7 M1335.2,127.24 H1322.7 M775.2,115.73 H787.7 M1335.2,115.73 H1322.7 M775.2,106.33 H787.7 M1335.2,106.33 H1322.7 M775.2,98.39 H787.7 M1335.2,98.39 H1322.7 M775.2,91.5 H787.7 M1335.2,91.5 H1322.7 M775.2,85.43 H787.7 M1335.2,85.43 H1322.7 M775.2,1023.34 H786.2 M1335.2,1023.34 H1324.2 M775.2,1008 H798.2 M1335.2,1008 H1312.2 M775.2,992.66 H786.2 M1335.2,992.66 H1324.2 M775.2,977.32 H786.2 M1335.2,977.32 H1324.2 M775.2,961.98 H786.2 M1335.2,961.98 H1324.2 M775.2,946.64 H786.2 M1335.2,946.64 H1324.2 M775.2,931.3 H798.2 M1335.2,931.3 H1312.2 M775.2,915.96 H786.2 M1335.2,915.96 H1324.2 M775.2,900.62 H786.2 M1335.2,900.62 H1324.2 M775.2,885.28 H786.2 M1335.2,885.28 H1324.2 M775.2,869.94 H786.2 M1335.2,869.94 H1324.2 M775.2,854.6 H798.2 M1335.2,854.6 H1312.2 M775.2,839.26 H786.2 M1335.2,839.26 H1324.2 M1458.4,80 V102 M1458.4,792.2 V770.2 M1458.4,825 V847 M1458.4,1038.3 V1016.3 M1570.4,80 V102 M1570.4,792.2 V770.2 M1570.4,825 V847 M1570.4,1038.3 V1016.3 M1682.4,80 V102 M1682.4,792.2 V770.2 M1682.4,825 V847 M1682.4,1038.3 V1016.3 M1794.4,80 V102 M1794.4,792.2 V770.2 M1794.4,825 V847 M1794.4,1038.3 V1016.3 M1346.4,756.47 H1358.9 M1906.4,756.47 H1893.9 M1346.4,735.57 H1358.9 M1906.4,735.57 H1893.9 M1346.4,720.74 H1358.9 M1906.4,720.74 H1893.9 M1346.4,709.23 H1358.9 M1906.4,709.23 H1893.9 M1346.4,699.83 H1358.9 M1906.4,699.83 H1893.9 M1346.4,691.89 H1358.9 M1906.4,691.89 H1893.9 M1346.4,685 H1358.9 M1906.4,685 H1893.9 M1346.4,678.93 H1358.9 M1906.4,678.93 H1893.9 M1346.4,673.5 H1370.9 M1906.4,673.5 H1881.9 M1346.4,637.77 H1358.9 M1906.4,637.77 H1893.9 M1346.4,616.87 H1358.9 M1906.4,616.87 H1893.9 M1346.4,602.04 H1358.9 M1906.4,602.04 H1893.9 M1346.4,590.53 H1358.9 M1906.4,590.53 H1893.9 M1346.4,581.13 H1358.9 M1906.4,581.13 H1893.9 M1346.4,573.19 H1358.9 M1906.4,573.19 H1893.9 M1346.4,566.3 H1358.9 M1906.4,566.3 H1893.9 M1346.4,560.23 H1358.9 M1906.4,560.23 H1893.9 M1346.4,554.8 H1370.9 M1906.4,554.8 H1881.9 M1346.4,519.07 H1358.9 M1906.4,519.07 H1893.9 M1346.4,498.17 H1358.9 M1906.4,498.17 H1893.9 M1346.4,483.34 H1358.9 M1906.4,483.34 H1893.9 M1346.4,471.83 H1358.9 M1906.4,471.83 H1893.9 M1346.4,462.43 H1358.9 M1906.4,462.43 H1893.9 M1346.4,454.49 H1358.9 M1906.4,454.49 H1893.9 M1346.4,447.6 H1358.9 M1906.4,447.6 H1893.9 M1346.4,441.53 H1358.9 M1906.4,441.53 H1893.9 M1346.4,436.1 H1370.9 M1906.4,436.1 H1881.9 M1346.4,400.37 H1358.9 M1906.4,400.37 H1893.9 M1346.4,379.47 H1358.9 M1906.4,379.47 H1893.9 M1346.4,364.64 H1358.9 M1906.4,364.64 H1893.9 M1346.4,353.13 H1358.9 M1906.4,353.13 H1893.9 M1346.4,343.73 H1358.9 M1906.4,343.73 H1893.9 M1346.4,335.79 H1358.9 M1906.4,335.79 H1893.9 M1346.4,328.9 H1358.9 M1906.4,328.9 H1893.9 M1346.4,322.83 H1358.9 M1906.4,322.83 H1893.9 M1346.4,317.4 H1370.9 M1906.4,317.4 H1881.9 M1346.4,281.67 H1358.9 M1906.4,281.67 H1893.9 M1346.4,260.77 H1358.9 M1906.4,260.77 H1893.9 M1346.4,245.94 H1358.9 M1906.4,245.94 H1893.9 M1346.4,234.43 H1358.9 M1906.4,234.43 H1893.9 M1346.4,225.03 H1358.9 M1906.4,225.03 H1893.9 M1346.4,217.09 H1358.9 M1906.4,217.09 H1893.9 M1346.4,210.2 H1358.9 M1906.4,210.2 H1893.9 M1346.4,204.13 H1358.9 M1906.4,204.13 H1893.9 M1346.4,198.7 H1370.9 M1906.4,198.7 H1881.9 M1346.4,162.97 H1358.9 M1906.4,162.97 H1893.9 M1346.4,142.07 H1358.9 M1906.4,142.07 H1893.9 M1346.4,127.24 H1358.9 M1906.4,127.24 H1893.9 M1346.4,115.73 H1358.9 M1906.4,115.73 H1893.9 M1346.4,106.33 H1358.9 M1906.4,106.33 H1893.9 M1346.4,98.39 H1358.9 M1906.4,98.39 H1893.9 M1346.4,91.5 H1358.9 M1906.4,91.5 H1893.9 M1346.4,85.43 H1358.9 M1906.4,85.43 H1893.9 M1346.4,1023.34 H1357.4 M1906.4,1023.34 H1895.4 M1346.4,1008 H1369.4 M1906.4,1008 H1883.4 M1346.4,992.66 H1357.4 M1906.4,992.66 H1895.4 M1346.4,977.32 H1357.4 M1906.4,977.32 H1895.4 M1346.4,961.98 H1357.4 M1906.4,961.98 H1895.4 M1346.4,946.64 H1357.4 M1906.4,946.64 H1895.4 M1346.4,931.3 H1369.4 M1906.4,931.3 H1883.4 M1346.4,915.96 H1357.4 M1906.4,915.96 H1895.4 M1346.4,900.62 H1357.4 M1906.4,900.62 H1895.4 M1346.4,885.28 H1357.4 M1906.4,885.28 H1895.4 M1346.4,869.94 H1357.4 M1906.4,869.94 H1895.4 M1346.4,854.6 H1369.4 M1906.4,854.6 H1883.4 M1346.4,839.26 H1357.4 M1906.4,839.26 H1895.4" stroke="#000" stroke-width="2.1" fill="none"/>
<rect x="680" y="98.5" width="1200" height="201.5" fill="#fff"/>
<rect x="230" y="838" width="518" height="50" fill="#fff"/>
<rect x="204" y="80" width="560" height="712.2" fill="none" stroke="#000" stroke-width="4"/>
<rect x="204" y="825" width="560" height="213.3" fill="none" stroke="#000" stroke-width="4"/>
<rect x="775.2" y="80" width="560" height="712.2" fill="none" stroke="#000" stroke-width="4"/>
<rect x="775.2" y="825" width="560" height="213.3" fill="none" stroke="#000" stroke-width="4"/>
<rect x="1346.4" y="80" width="560" height="712.2" fill="none" stroke="#000" stroke-width="4"/>
<rect x="1346.4" y="825" width="560" height="213.3" fill="none" stroke="#000" stroke-width="4"/>
<rect x="745" y="98.5" width="1135" height="201.5" fill="#fff"/>
<g style='font-family:"Liberation Sans",sans-serif;font-kerning:none;font-variant-ligatures:none' stroke="#000" stroke-width="0.9"><text x="203" y="64.3" font-size="69" font-weight="bold">CMS</text><text x="1515" y="62.7" font-size="49.6">101 fb</text><text x="1654.3" y="44.9" font-size="34.7">−1</text><text x="1709.3" y="62.7" font-size="49.6">(13 TeV)</text><text transform="translate(77,364.8) rotate(-90)" font-size="61">Events/bin</text><text transform="translate(65.5,1116.9) rotate(-90)" font-size="61">Data/Pred.</text><text x="196" y="809.2" font-size="49" text-anchor="end">10<tspan font-size="33" dy="-18.5">−1</tspan></text><text x="1914" y="809.2" font-size="49">10<tspan font-size="33" dy="-18.5">−1</tspan></text><text x="196" y="690.5" font-size="49" text-anchor="end">10<tspan font-size="33" dy="-18.5">0</tspan></text><text x="1914" y="690.5" font-size="49">10<tspan font-size="33" dy="-18.5">0</tspan></text><text x="196" y="571.8" font-size="49" text-anchor="end">10<tspan font-size="33" dy="-18.5">1</tspan></text><text x="1914" y="571.8" font-size="49">10<tspan font-size="33" dy="-18.5">1</tspan></text><text x="196" y="453.1" font-size="49" text-anchor="end">10<tspan font-size="33" dy="-18.5">2</tspan></text><text x="1914" y="453.1" font-size="49">10<tspan font-size="33" dy="-18.5">2</tspan></text><text x="196" y="334.4" font-size="49" text-anchor="end">10<tspan font-size="33" dy="-18.5">3</tspan></text><text x="1914" y="334.4" font-size="49">10<tspan font-size="33" dy="-18.5">3</tspan></text><text x="196" y="215.7" font-size="49" text-anchor="end">10<tspan font-size="33" dy="-18.5">4</tspan></text><text x="1914" y="215.7" font-size="49">10<tspan font-size="33" dy="-18.5">4</tspan></text><text x="196" y="97" font-size="49" text-anchor="end">10<tspan font-size="33" dy="-18.5">5</tspan></text><text x="1914" y="97" font-size="49">10<tspan font-size="33" dy="-18.5">5</tspan></text><text x="197" y="872.1" font-size="49" text-anchor="end">1.5</text><text x="1914" y="872.1" font-size="49">1.5</text><text x="197" y="948.8" font-size="49" text-anchor="end">1.0</text><text x="1914" y="948.8" font-size="49">1.0</text><text x="197" y="1025.5" font-size="49" text-anchor="end">0.5</text><text x="1914" y="1025.5" font-size="49">0.5</text><text x="204" y="1086.3" font-size="49" text-anchor="middle">70</text><text x="316" y="1086.3" font-size="49" text-anchor="middle">88</text><text x="428" y="1086.3" font-size="49" text-anchor="middle">106</text><text x="540" y="1086.3" font-size="49" text-anchor="middle">124</text><text x="652" y="1086.3" font-size="49" text-anchor="middle">142</text><text x="764" y="1086.3" font-size="49" text-anchor="middle">160</text><text x="899.64" y="1086.3" font-size="49" text-anchor="middle">90</text><text x="1024.09" y="1086.3" font-size="49" text-anchor="middle">110</text><text x="1148.53" y="1086.3" font-size="49" text-anchor="middle">130</text><text x="1272.98" y="1086.3" font-size="49" text-anchor="middle">150</text><text x="1346.4" y="1086.3" font-size="49" text-anchor="middle">70</text><text x="1458.4" y="1086.3" font-size="49" text-anchor="middle">88</text><text x="1570.4" y="1086.3" font-size="49" text-anchor="middle">106</text><text x="1682.4" y="1086.3" font-size="49" text-anchor="middle">124</text><text x="1794.4" y="1086.3" font-size="49" text-anchor="middle">142</text><text x="1906.4" y="1086.3" font-size="49" text-anchor="middle">160</text><text x="1619.1" y="1162.8" font-size="62">m</text><text x="1671.6" y="1171.7" font-size="40.8">SD</text><text x="1748" y="1162.8" font-size="62">[GeV]</text><text x="231.4" y="152.7" font-size="53.3">t(e) CR</text><text x="231.8" y="210.5" font-size="53.3">merged</text><text x="359.9" y="322.9" font-size="40.8" fill="#0000ff" stroke="#0000ff">U:</text><text x="411.9" y="322.9" font-size="40.8" fill="#0000ff" stroke="#0000ff">[250</text><text x="528" y="322.9" font-size="40.8" fill="#0000ff" stroke="#0000ff">350]</text><text x="956" y="344.3" font-size="40.8" fill="#0000ff" stroke="#0000ff">[350</text><text x="1072.2" y="344.3" font-size="40.8" fill="#0000ff" stroke="#0000ff">500]</text><text x="1514.8" y="344.3" font-size="40.8" fill="#0000ff" stroke="#0000ff">[</text><text x="1563.6" y="344.3" font-size="40.8" fill="#0000ff" stroke="#0000ff">500]</text><text x="1653.8" y="344.3" font-size="40.8" fill="#0000ff" stroke="#0000ff">GeV</text><text x="766" y="151" font-size="40.8">Data</text><text x="766" y="210.5" font-size="40.8">Stat. + syst. uncertainty</text><text x="766" y="266.7" font-size="40.8">tt</text><text x="1323" y="150" font-size="40.8">Single t</text><text x="1324.9" y="209" font-size="40.8">W(</text><text x="1378" y="209" font-size="40.8">ℓ</text><text x="1396" y="209" font-size="40.8" transform="translate(1396,0) scale(1.06,1) translate(-1396,0)">ν</text><text x="1418.2" y="209" font-size="40.8">)+jets</text><text x="1652" y="150" font-size="40.8">WW/WZ/ZZ</text><text x="1651.6" y="209" font-size="40.8">Z(</text><text x="1691.6" y="209" font-size="40.8">ℓ</text><text x="1708.6" y="209" font-size="40.8">ℓ</text><text x="1726.4" y="209" font-size="40.8">)+jets</text><text x="296" y="874.2" font-size="28.4">Post-fit</text><text x="450" y="874.2" font-size="28.4">Pre-fit</text><text x="591" y="874.2" font-size="28.4">Uncertainty</text></g>
<path d="M1538.5,321.8 L1551.5,333.9 L1538.5,346" stroke="#0000ff" stroke-width="3" fill="none"/>
<rect x="500.7" y="311.4" width="18.2" height="3.5" fill="#0000ff"/><rect x="1045.2" y="331.6" width="18.5" height="3.5" fill="#0000ff"/>
<rect x="780.5" y="233.3" width="9.5" height="2.6" fill="#000"/>
<path d="M682,136.7 H724.6 M683.2,129.2 V144.2 M723.4,129.2 V144.2 M703.5,115.3 V157.8 M696,116.5 H711 M696,156.6 H711" stroke="#000" stroke-width="2.4" fill="none"/>
<circle cx="703.5" cy="136.7" r="5" fill="#000"/>
<rect x="672.5" y="182.9" width="60.7" height="27" fill="url(#hatchL)" stroke="#a6a6a6" stroke-width="4.6"/>
<rect x="673" y="241.2" width="60.8" height="28.2" fill="#f89c20"/>
<rect x="1230.8" y="123.1" width="61.3" height="27.8" fill="#e42536"/>
<rect x="1230.8" y="182.1" width="61.3" height="28.5" fill="#5790fc"/>
<rect x="1558.5" y="123.1" width="61.3" height="27.8" fill="#9c9ca1"/>
<rect x="1558.5" y="182.1" width="61.3" height="28.5" fill="#92dadd"/>
<path d="M266,850 V878.6 M259.8,850 H272.2 M259.8,878.6 H272.2" stroke="#000" stroke-width="2.5" fill="none"/>
<circle cx="266" cy="863.9" r="5.9" fill="#000"/>
<path d="M420.4,850 V878.6 M414.2,850 H426.6 M414.2,878.6 H426.6" stroke="#ff0000" stroke-width="2.5" fill="none"/>
<circle cx="420.4" cy="863.9" r="5.9" fill="#ff0000"/>
<rect x="540" y="854.2" width="42.9" height="20" fill="#b3b3b3"/>
</g>
<g transform="translate(-7.5,1198)">
<clipPath id="clipmb0"><rect x="204" y="80" width="560" height="712.2"/></clipPath>
<g clip-path="url(#clipmb0)">
<path d="M204,794.2 L204,383.3 L260,383.3 L260,371.6 L316,371.6 L316,370.1 L372,370.1 L372,373.8 L428,373.8 L428,376.8 L484,376.8 L484,380.9 L540,380.9 L540,385 L596,385 L596,393.5 L652,393.5 L652,398.4 L708,398.4 L708,405.6 L764,405.6 L764,794.2 Z" fill="#f89c20"/>
<path d="M204,794.2 L204,461.9 L260,461.9 L260,452.1 L316,452.1 L316,461.3 L372,461.3 L372,474.1 L428,474.1 L428,490.2 L484,490.2 L484,503.4 L540,503.4 L540,506 L596,506 L596,539.2 L652,539.2 L652,536.9 L708,536.9 L708,552 L764,552 L764,794.2 Z" fill="#e42536"/>
<path d="M204,794.2 L204,487.6 L260,487.6 L260,492.5 L316,492.5 L316,511.6 L372,511.6 L372,521.4 L428,521.4 L428,534.3 L484,534.3 L484,572.4 L540,572.4 L540,582.9 L596,582.9 L596,611.2 L652,611.2 L652,591.1 L708,591.1 L708,614.2 L764,614.2 L764,794.2 Z" fill="#5790fc"/>
<path d="M204,794.2 L204,610.9 L260,610.9 L260,607.3 L316,607.3 L316,619.7 L372,619.7 L372,628.3 L428,628.3 L428,679.9 L484,679.9 L484,726 L540,726 L540,722.3 L596,722.3 L596,757.2 L652,757.2 L652,766.7 L708,766.7 L708,715.8 L764,715.8 L764,794.2 Z" fill="#9c9ca1"/>
<path d="M204,794.2 L204,655.3 L260,655.3 L260,679.9 L316,679.9 L316,668.1 L372,668.1 L372,699.6 L428,699.6 L428,690.8 L484,690.8 L484,765.1 L540,765.1 L540,735.8 L596,735.8 L596,760.2 L652,760.2 L652,771 L708,771 L708,715.8 L764,715.8 L764,794.2 Z" fill="#92dadd"/>
<rect x="207" y="379" width="50" height="8.7" fill="#808080" fill-opacity="0.7"/>
<rect x="263" y="367.5" width="50" height="8.2" fill="#808080" fill-opacity="0.7"/>
<rect x="319" y="365.3" width="50" height="9.6" fill="#808080" fill-opacity="0.7"/>
<rect x="375" y="369.1" width="50" height="9.4" fill="#808080" fill-opacity="0.7"/>
<rect x="431" y="372.1" width="50" height="9.4" fill="#808080" fill-opacity="0.7"/>
<rect x="487" y="376.2" width="50" height="9.5" fill="#808080" fill-opacity="0.7"/>
<rect x="543" y="380.3" width="50" height="9.5" fill="#808080" fill-opacity="0.7"/>
<path d="M599,388.2 H649 V398.9 H599 Z M603.6,392.8 V394.3 H644.4 V392.8 Z" fill="#808080" fill-opacity="0.7"/>
<rect x="603.6" y="392.8" width="40.8" height="1.5" fill="url(#hatch)"/>
<path d="M655,393.1 H705 V403.8 H655 Z M659.6,397.7 V399.2 H700.4 V397.7 Z" fill="#808080" fill-opacity="0.7"/>
<rect x="659.6" y="397.7" width="40.8" height="1.5" fill="url(#hatch)"/>
<rect x="711" y="400.5" width="50" height="10.2" fill="#808080" fill-opacity="0.7"/>
<path d="M204,380.6 H260 M204,372.6 V388.6 M260,372.6 V388.6 M232,377.59 V383.61 M223.8,377.59 H240.2 M223.8,383.61 H240.2" stroke="#000" stroke-width="2.6" fill="none"/>
<circle cx="232" cy="380.6" r="5.9" fill="#000"/>
<path d="M260,368 H316 M260,360 V376 M316,360 V376 M288,365.34 V370.66 M279.8,365.34 H296.2 M279.8,370.66 H296.2" stroke="#000" stroke-width="2.6" fill="none"/>
<circle cx="288" cy="368" r="5.9" fill="#000"/>
<path d="M316,369.6 H372 M316,361.6 V377.6 M372,361.6 V377.6 M344,366.9 V372.3 M335.8,366.9 H352.2 M335.8,372.3 H352.2" stroke="#000" stroke-width="2.6" fill="none"/>
<circle cx="344" cy="369.6" r="5.9" fill="#000"/>
<path d="M372,374 H428 M372,366 V382 M428,366 V382 M400,371.18 V376.82 M391.8,371.18 H408.2 M391.8,376.82 H408.2" stroke="#000" stroke-width="2.6" fill="none"/>
<circle cx="400" cy="374" r="5.9" fill="#000"/>
<path d="M428,380.1 H484 M428,372.1 V388.1 M484,372.1 V388.1 M456,377.11 V383.09 M447.8,377.11 H464.2 M447.8,383.09 H464.2" stroke="#000" stroke-width="2.6" fill="none"/>
<circle cx="456" cy="380.1" r="5.9" fill="#000"/>
<path d="M484,380.3 H540 M484,372.3 V388.3 M540,372.3 V388.3 M512,377.3 V383.3 M503.8,377.3 H520.2 M503.8,383.3 H520.2" stroke="#000" stroke-width="2.6" fill="none"/>
<circle cx="512" cy="380.3" r="5.9" fill="#000"/>
<path d="M540,384.6 H596 M540,376.6 V392.6 M596,376.6 V392.6 M568,381.47 V387.73 M559.8,381.47 H576.2 M559.8,387.73 H576.2" stroke="#000" stroke-width="2.6" fill="none"/>
<circle cx="568" cy="384.6" r="5.9" fill="#000"/>
<path d="M596,395.1 H652 M596,387.1 V403.1 M652,387.1 V403.1 M624,391.64 V398.56 M615.8,391.64 H632.2 M615.8,398.56 H632.2" stroke="#000" stroke-width="2.6" fill="none"/>
<circle cx="624" cy="395.1" r="5.9" fill="#000"/>
<path d="M652,397.7 H708 M652,389.7 V405.7 M708,389.7 V405.7 M680,394.15 V401.25 M671.8,394.15 H688.2 M671.8,401.25 H688.2" stroke="#000" stroke-width="2.6" fill="none"/>
<circle cx="680" cy="397.7" r="5.9" fill="#000"/>
<path d="M708,403 H764 M708,395 V411 M764,395 V411 M736,399.26 V406.74 M727.8,399.26 H744.2 M727.8,406.74 H744.2" stroke="#000" stroke-width="2.6" fill="none"/>
<circle cx="736" cy="403" r="5.9" fill="#000"/>
</g>
<clipPath id="cliprb0"><rect x="204" y="825" width="560" height="213.3"/></clipPath>
<g clip-path="url(#cliprb0)">
<path d="M204,916.9 L260,916.9 L260,919.4 L316,919.4 L316,919.4 L372,919.4 L372,919.4 L428,919.4 L428,918.9 L484,918.9 L484,917.8 L540,917.8 L540,916.8 L596,916.8 L596,916.1 L652,916.1 L652,914.8 L708,914.8 L708,913.2 L764,913.2 L764,947.7 L708,947.7 L708,946.5 L652,946.5 L652,946 L596,946 L596,945.2 L540,945.2 L540,944.1 L484,944.1 L484,943.6 L428,943.6 L428,943.1 L372,943.1 L372,943.1 L316,943.1 L316,943.6 L260,943.6 L260,944.4 L204,944.4 Z" fill="#b3b3b3"/>
<line x1="204" y1="931.3" x2="764" y2="931.3" stroke="#000" stroke-width="3.2" stroke-dasharray="11.5,4.8" stroke-dashoffset="0"/>
<path d="M232,914 V933 M225.8,914 H238.2 M225.8,933 H238.2" stroke="#000" stroke-width="2.5" fill="none"/>
<path d="M288,914.5 V932.5 M281.8,914.5 H294.2 M281.8,932.5 H294.2" stroke="#000" stroke-width="2.5" fill="none"/>
<path d="M344,924.2 V939.2 M337.8,924.2 H350.2 M337.8,939.2 H350.2" stroke="#000" stroke-width="2.5" fill="none"/>
<path d="M400,924.2 V939.8 M393.8,924.2 H406.2 M393.8,939.8 H406.2" stroke="#000" stroke-width="2.5" fill="none"/>
<path d="M456,932 V949.6 M449.8,932 H462.2 M449.8,949.6 H462.2" stroke="#000" stroke-width="2.5" fill="none"/>
<path d="M512,922.2 V940.2 M505.8,922.2 H518.2 M505.8,940.2 H518.2" stroke="#000" stroke-width="2.5" fill="none"/>
<path d="M568,920.9 V939.9 M561.8,920.9 H574.2 M561.8,939.9 H574.2" stroke="#000" stroke-width="2.5" fill="none"/>
<path d="M624,926 V945.6 M617.8,926 H630.2 M617.8,945.6 H630.2" stroke="#000" stroke-width="2.5" fill="none"/>
<path d="M680,918.9 V940.3 M673.8,918.9 H686.2 M673.8,940.3 H686.2" stroke="#000" stroke-width="2.5" fill="none"/>
<path d="M736,914.5 V936.5 M729.8,914.5 H742.2 M729.8,936.5 H742.2" stroke="#000" stroke-width="2.5" fill="none"/>
<path d="M232,911.2 V931.6 M225.8,911.2 H238.2 M225.8,931.6 H238.2" stroke="#ff0000" stroke-width="2.5" fill="none"/>
<path d="M288,911.2 V930.8 M281.8,911.2 H294.2 M281.8,930.8 H294.2" stroke="#ff0000" stroke-width="2.5" fill="none"/>
<path d="M344,932.6 V946.4 M337.8,932.6 H350.2 M337.8,946.4 H350.2" stroke="#ff0000" stroke-width="2.5" fill="none"/>
<path d="M400,930.3 V944.7 M393.8,930.3 H406.2 M393.8,944.7 H406.2" stroke="#ff0000" stroke-width="2.5" fill="none"/>
<path d="M456,947.7 V962.5 M449.8,947.7 H462.2 M449.8,962.5 H462.2" stroke="#ff0000" stroke-width="2.5" fill="none"/>
<path d="M512,931.3 V947.7 M505.8,931.3 H518.2 M505.8,947.7 H518.2" stroke="#ff0000" stroke-width="2.5" fill="none"/>
<path d="M568,929.3 V944.7 M561.8,929.3 H574.2 M561.8,944.7 H574.2" stroke="#ff0000" stroke-width="2.5" fill="none"/>
<path d="M624,937.1 V956.7 M617.8,937.1 H630.2 M617.8,956.7 H630.2" stroke="#ff0000" stroke-width="2.5" fill="none"/>
<path d="M680,925.2 V945.4 M673.8,925.2 H686.2 M673.8,945.4 H686.2" stroke="#ff0000" stroke-width="2.5" fill="none"/>
<path d="M736,919.9 V942.5 M729.8,919.9 H742.2 M729.8,942.5 H742.2" stroke="#ff0000" stroke-width="2.5" fill="none"/>
<circle cx="232" cy="921.4" r="5.9" fill="#ff0000"/>
<circle cx="288" cy="921" r="5.9" fill="#ff0000"/>
<circle cx="344" cy="939.5" r="5.9" fill="#ff0000"/>
<circle cx="400" cy="937.5" r="5.9" fill="#ff0000"/>
<circle cx="456" cy="955.1" r="5.9" fill="#ff0000"/>
<circle cx="512" cy="939.5" r="5.9" fill="#ff0000"/>
<circle cx="568" cy="937" r="5.9" fill="#ff0000"/>
<circle cx="624" cy="946.9" r="5.9" fill="#ff0000"/>
<circle cx="680" cy="935.3" r="5.9" fill="#ff0000"/>
<circle cx="736" cy="931.2" r="5.9" fill="#ff0000"/>
<circle cx="232" cy="923.5" r="5.9" fill="#000"/>
<circle cx="288" cy="923.5" r="5.9" fill="#000"/>
<circle cx="344" cy="931.7" r="5.9" fill="#000"/>
<circle cx="400" cy="932" r="5.9" fill="#000"/>
<circle cx="456" cy="940.8" r="5.9" fill="#000"/>
<circle cx="512" cy="931.2" r="5.9" fill="#000"/>
<circle cx="568" cy="930.4" r="5.9" fill="#000"/>
<circle cx="624" cy="935.8" r="5.9" fill="#000"/>
<circle cx="680" cy="929.6" r="5.9" fill="#000"/>
<circle cx="736" cy="925.5" r="5.9" fill="#000"/>
</g>
<clipPath id="clipmb1"><rect x="775.2" y="80" width="560" height="712.2"/></clipPath>
<g clip-path="url(#clipmb1)">
<path d="M775.2,794.2 L775.2,473 L837.42,473 L837.42,451.5 L899.64,451.5 L899.64,449.4 L961.87,449.4 L961.87,448 L1024.09,448 L1024.09,448.9 L1086.31,448.9 L1086.31,448 L1148.53,448 L1148.53,439.3 L1210.76,439.3 L1210.76,438.6 L1272.98,438.6 L1272.98,443 L1335.2,443 L1335.2,794.2 Z" fill="#f89c20"/>
<path d="M775.2,794.2 L775.2,526.1 L837.42,526.1 L837.42,499.2 L899.64,499.2 L899.64,508.7 L961.87,508.7 L961.87,510.7 L1024.09,510.7 L1024.09,528.8 L1086.31,528.8 L1086.31,530.7 L1148.53,530.7 L1148.53,535.4 L1210.76,535.4 L1210.76,538 L1272.98,538 L1272.98,559.7 L1335.2,559.7 L1335.2,794.2 Z" fill="#e42536"/>
<path d="M775.2,794.2 L775.2,569.2 L837.42,569.2 L837.42,540.3 L899.64,540.3 L899.64,570.9 L961.87,570.9 L961.87,563.3 L1024.09,563.3 L1024.09,600.1 L1086.31,600.1 L1086.31,611.3 L1148.53,611.3 L1148.53,601.4 L1210.76,601.4 L1210.76,637 L1272.98,637 L1272.98,624.8 L1335.2,624.8 L1335.2,794.2 Z" fill="#5790fc"/>
<path d="M775.2,794.2 L775.2,682.3 L837.42,682.3 L837.42,640.2 L899.64,640.2 L899.64,669.2 L961.87,669.2 L961.87,692.2 L1024.09,692.2 L1024.09,711.3 L1086.31,711.3 L1086.31,771.1 L1148.53,771.1 L1148.53,792.2 L1210.76,792.2 L1210.76,792.2 L1272.98,792.2 L1272.98,757.3 L1335.2,757.3 L1335.2,794.2 Z" fill="#9c9ca1"/>
<path d="M775.2,794.2 L775.2,717.2 L837.42,717.2 L837.42,743.5 L899.64,743.5 L899.64,792.2 L961.87,792.2 L961.87,792.2 L1024.09,792.2 L1024.09,753.3 L1086.31,753.3 L1086.31,792.2 L1148.53,792.2 L1148.53,792.2 L1210.76,792.2 L1210.76,792.2 L1272.98,792.2 L1272.98,792.2 L1335.2,792.2 L1335.2,794.2 Z" fill="#92dadd"/>
<path d="M778.9,464.9 H833.72 V481 H778.9 Z M783.5,469.5 V476.4 H829.12 V469.5 Z" fill="#808080" fill-opacity="0.7"/>
<rect x="783.5" y="469.5" width="45.62" height="6.9" fill="url(#hatch)"/>
<path d="M841.12,444.1 H895.94 V458.9 H841.12 Z M845.72,448.7 V454.3 H891.34 V448.7 Z" fill="#808080" fill-opacity="0.7"/>
<rect x="845.72" y="448.7" width="45.62" height="5.6" fill="url(#hatch)"/>
<path d="M903.34,443.2 H958.17 V455.6 H903.34 Z M907.94,447.8 V451 H953.57 V447.8 Z" fill="#808080" fill-opacity="0.7"/>
<rect x="907.94" y="447.8" width="45.62" height="3.2" fill="url(#hatch)"/>
<path d="M965.57,441.3 H1020.39 V454.7 H965.57 Z M970.17,445.9 V450.1 H1015.79 V445.9 Z" fill="#808080" fill-opacity="0.7"/>
<rect x="970.17" y="445.9" width="45.62" height="4.2" fill="url(#hatch)"/>
<path d="M1027.79,442 H1082.61 V455.8 H1027.79 Z M1032.39,446.6 V451.2 H1078.01 V446.6 Z" fill="#808080" fill-opacity="0.7"/>
<rect x="1032.39" y="446.6" width="45.62" height="4.6" fill="url(#hatch)"/>
<path d="M1090.01,441.1 H1144.83 V454.9 H1090.01 Z M1094.61,445.7 V450.3 H1140.23 V445.7 Z" fill="#808080" fill-opacity="0.7"/>
<rect x="1094.61" y="445.7" width="45.62" height="4.6" fill="url(#hatch)"/>
<path d="M1152.23,432.9 H1207.06 V445.6 H1152.23 Z M1156.83,437.5 V441 H1202.46 V437.5 Z" fill="#808080" fill-opacity="0.7"/>
<rect x="1156.83" y="437.5" width="45.62" height="3.5" fill="url(#hatch)"/>
<path d="M1214.46,432.1 H1269.28 V445.1 H1214.46 Z M1219.06,436.7 V440.5 H1264.68 V436.7 Z" fill="#808080" fill-opacity="0.7"/>
<rect x="1219.06" y="436.7" width="45.62" height="3.8" fill="url(#hatch)"/>
<path d="M1276.68,436.2 H1331.5 V449.7 H1276.68 Z M1281.28,440.8 V445.1 H1326.9 V440.8 Z" fill="#808080" fill-opacity="0.7"/>
<rect x="1281.28" y="440.8" width="45.62" height="4.3" fill="url(#hatch)"/>
<path d="M775.2,472.8 H837.42 M775.2,464.8 V480.8 M837.42,464.8 V480.8 M806.31,465.45 V480.15 M798.11,465.45 H814.51 M798.11,480.15 H814.51" stroke="#000" stroke-width="2.6" fill="none"/>
<circle cx="806.31" cy="472.8" r="5.9" fill="#000"/>
<path d="M837.42,452.3 H899.64 M837.42,444.3 V460.3 M899.64,444.3 V460.3 M868.53,446.27 V458.33 M860.33,446.27 H876.73 M860.33,458.33 H876.73" stroke="#000" stroke-width="2.6" fill="none"/>
<circle cx="868.53" cy="452.3" r="5.9" fill="#000"/>
<path d="M899.64,450.6 H961.87 M899.64,442.6 V458.6 M961.87,442.6 V458.6 M930.76,444.67 V456.53 M922.56,444.67 H938.96 M922.56,456.53 H938.96" stroke="#000" stroke-width="2.6" fill="none"/>
<circle cx="930.76" cy="450.6" r="5.9" fill="#000"/>
<path d="M961.87,447 H1024.09 M961.87,439 V455 M1024.09,439 V455 M992.98,441.27 V452.73 M984.78,441.27 H1001.18 M984.78,452.73 H1001.18" stroke="#000" stroke-width="2.6" fill="none"/>
<circle cx="992.98" cy="447" r="5.9" fill="#000"/>
<path d="M1024.09,448 H1086.31 M1024.09,440 V456 M1086.31,440 V456 M1055.2,442.22 V453.78 M1047,442.22 H1063.4 M1047,453.78 H1063.4" stroke="#000" stroke-width="2.6" fill="none"/>
<circle cx="1055.2" cy="448" r="5.9" fill="#000"/>
<path d="M1086.31,448.4 H1148.53 M1086.31,440.4 V456.4 M1148.53,440.4 V456.4 M1117.42,442.59 V454.21 M1109.22,442.59 H1125.62 M1109.22,454.21 H1125.62" stroke="#000" stroke-width="2.6" fill="none"/>
<circle cx="1117.42" cy="448.4" r="5.9" fill="#000"/>
<path d="M1148.53,436.5 H1210.76 M1148.53,428.5 V444.5 M1210.76,428.5 V444.5 M1179.64,431.33 V441.67 M1171.44,431.33 H1187.84 M1171.44,441.67 H1187.84" stroke="#000" stroke-width="2.6" fill="none"/>
<circle cx="1179.64" cy="436.5" r="5.9" fill="#000"/>
<path d="M1210.76,438.2 H1272.98 M1210.76,430.2 V446.2 M1272.98,430.2 V446.2 M1241.87,432.94 V443.46 M1233.67,432.94 H1250.07 M1233.67,443.46 H1250.07" stroke="#000" stroke-width="2.6" fill="none"/>
<circle cx="1241.87" cy="438.2" r="5.9" fill="#000"/>
<path d="M1272.98,446.1 H1335.2 M1272.98,438.1 V454.1 M1335.2,438.1 V454.1 M1304.09,440.42 V451.78 M1295.89,440.42 H1312.29 M1295.89,451.78 H1312.29" stroke="#000" stroke-width="2.6" fill="none"/>
<circle cx="1304.09" cy="446.1" r="5.9" fill="#000"/>
</g>
<clipPath id="cliprb1"><rect x="775.2" y="825" width="560" height="213.3"/></clipPath>
<g clip-path="url(#cliprb1)">
<path d="M775.2,894 L837.42,894 L837.42,902.2 L899.64,902.2 L899.64,902.2 L961.87,902.2 L961.87,902.2 L1024.09,902.2 L1024.09,902.2 L1086.31,902.2 L1086.31,902.2 L1148.53,902.2 L1148.53,904.5 L1210.76,904.5 L1210.76,905.5 L1272.98,905.5 L1272.98,905.5 L1335.2,905.5 L1335.2,953.1 L1272.98,953.1 L1272.98,953.1 L1210.76,953.1 L1210.76,953.8 L1148.53,953.8 L1148.53,955.4 L1086.31,955.4 L1086.31,955.4 L1024.09,955.4 L1024.09,955.4 L961.87,955.4 L961.87,955.4 L899.64,955.4 L899.64,955.4 L837.42,955.4 L837.42,961.4 L775.2,961.4 Z" fill="#b3b3b3"/>
<line x1="775.2" y1="931.3" x2="1335.2" y2="931.3" stroke="#000" stroke-width="3.2" stroke-dasharray="11.5,4.8" stroke-dashoffset="0.7"/>
<path d="M806.31,911.7 V954.5 M800.11,911.7 H812.51 M800.11,954.5 H812.51" stroke="#000" stroke-width="2.5" fill="none"/>
<path d="M868.53,917.6 V953.8 M862.33,917.6 H874.73 M862.33,953.8 H874.73" stroke="#000" stroke-width="2.5" fill="none"/>
<path d="M930.76,917.6 V952.6 M924.56,917.6 H936.96 M924.56,952.6 H936.96" stroke="#000" stroke-width="2.5" fill="none"/>
<path d="M992.98,912.7 V946.9 M986.78,912.7 H999.18 M986.78,946.9 H999.18" stroke="#000" stroke-width="2.5" fill="none"/>
<path d="M1055.2,912 V946.2 M1049,912 H1061.4 M1049,946.2 H1061.4" stroke="#000" stroke-width="2.5" fill="none"/>
<path d="M1117.42,917 V951.2 M1111.22,917 H1123.62 M1111.22,951.2 H1123.62" stroke="#000" stroke-width="2.5" fill="none"/>
<path d="M1179.64,907.1 V939.3 M1173.44,907.1 H1185.84 M1173.44,939.3 H1185.84" stroke="#000" stroke-width="2.5" fill="none"/>
<path d="M1241.87,917.6 V947.2 M1235.67,917.6 H1248.07 M1235.67,947.2 H1248.07" stroke="#000" stroke-width="2.5" fill="none"/>
<path d="M1304.09,924.9 V955.1 M1297.89,924.9 H1310.29 M1297.89,955.1 H1310.29" stroke="#000" stroke-width="2.5" fill="none"/>
<path d="M806.31,932.2 V970.2 M800.11,932.2 H812.51 M800.11,970.2 H812.51" stroke="#ff0000" stroke-width="2.5" fill="none"/>
<path d="M868.53,935.9 V967.1 M862.33,935.9 H874.73 M862.33,967.1 H874.73" stroke="#ff0000" stroke-width="2.5" fill="none"/>
<path d="M930.76,943.5 V972.7 M924.56,943.5 H936.96 M924.56,972.7 H936.96" stroke="#ff0000" stroke-width="2.5" fill="none"/>
<path d="M992.98,935.1 V964.5 M986.78,935.1 H999.18 M986.78,964.5 H999.18" stroke="#ff0000" stroke-width="2.5" fill="none"/>
<path d="M1055.2,937.5 V966.7 M1049,937.5 H1061.4 M1049,966.7 H1061.4" stroke="#ff0000" stroke-width="2.5" fill="none"/>
<path d="M1117.42,944 V972.2 M1111.22,944 H1123.62 M1111.22,972.2 H1123.62" stroke="#ff0000" stroke-width="2.5" fill="none"/>
<path d="M1179.64,930.9 V958.9 M1173.44,930.9 H1185.84 M1173.44,958.9 H1185.84" stroke="#ff0000" stroke-width="2.5" fill="none"/>
<path d="M1241.87,953.3 V977.3 M1235.67,953.3 H1248.07 M1235.67,977.3 H1248.07" stroke="#ff0000" stroke-width="2.5" fill="none"/>
<path d="M1304.09,961.2 V985.8 M1297.89,961.2 H1310.29 M1297.89,985.8 H1310.29" stroke="#ff0000" stroke-width="2.5" fill="none"/>
<circle cx="806.31" cy="951.2" r="5.9" fill="#ff0000"/>
<circle cx="868.53" cy="951.5" r="5.9" fill="#ff0000"/>
<circle cx="930.76" cy="958.1" r="5.9" fill="#ff0000"/>
<circle cx="992.98" cy="949.8" r="5.9" fill="#ff0000"/>
<circle cx="1055.2" cy="952.1" r="5.9" fill="#ff0000"/>
<circle cx="1117.42" cy="958.1" r="5.9" fill="#ff0000"/>
<circle cx="1179.64" cy="944.9" r="5.9" fill="#ff0000"/>
<circle cx="1241.87" cy="965.3" r="5.9" fill="#ff0000"/>
<circle cx="1304.09" cy="973.5" r="5.9" fill="#ff0000"/>
<circle cx="806.31" cy="933.1" r="5.9" fill="#000"/>
<circle cx="868.53" cy="935.7" r="5.9" fill="#000"/>
<circle cx="930.76" cy="935.1" r="5.9" fill="#000"/>
<circle cx="992.98" cy="929.8" r="5.9" fill="#000"/>
<circle cx="1055.2" cy="929.1" r="5.9" fill="#000"/>
<circle cx="1117.42" cy="934.1" r="5.9" fill="#000"/>
<circle cx="1179.64" cy="923.2" r="5.9" fill="#000"/>
<circle cx="1241.87" cy="932.4" r="5.9" fill="#000"/>
<circle cx="1304.09" cy="940" r="5.9" fill="#000"/>
</g>
<clipPath id="clipmb2"><rect x="1346.4" y="80" width="560" height="712.2"/></clipPath>
<g clip-path="url(#clipmb2)">
<path d="M1346.4,794.2 L1346.4,518.6 L1458.4,518.6 L1458.4,522.4 L1570.4,522.4 L1570.4,519.8 L1682.4,519.8 L1682.4,516.5 L1794.4,516.5 L1794.4,505.5 L1906.4,505.5 L1906.4,794.2 Z" fill="#f89c20"/>
<path d="M1346.4,794.2 L1346.4,552.3 L1458.4,552.3 L1458.4,547.4 L1570.4,547.4 L1570.4,548.4 L1682.4,548.4 L1682.4,551 L1794.4,551 L1794.4,560.6 L1906.4,560.6 L1906.4,794.2 Z" fill="#e42536"/>
<path d="M1346.4,794.2 L1346.4,610.5 L1458.4,610.5 L1458.4,605.3 L1570.4,605.3 L1570.4,609.5 L1682.4,609.5 L1682.4,628.3 L1794.4,628.3 L1794.4,634.5 L1906.4,634.5 L1906.4,794.2 Z" fill="#5790fc"/>
<path d="M1346.4,794.2 L1346.4,668.4 L1458.4,668.4 L1458.4,672 L1570.4,672 L1570.4,740.7 L1682.4,740.7 L1682.4,752.9 L1794.4,752.9 L1794.4,736.1 L1906.4,736.1 L1906.4,794.2 Z" fill="#9c9ca1"/>
<path d="M1346.4,794.2 L1346.4,792.2 L1458.4,792.2 L1458.4,775.9 L1570.4,775.9 L1570.4,792.2 L1682.4,792.2 L1682.4,786.8 L1794.4,786.8 L1794.4,779.2 L1906.4,779.2 L1906.4,794.2 Z" fill="#92dadd"/>
<path d="M1354.7,508 H1450.1 V529.3 H1354.7 Z M1359.3,512.6 V524.7 H1445.5 V512.6 Z" fill="#808080" fill-opacity="0.7"/>
<rect x="1359.3" y="512.6" width="86.2" height="12.1" fill="url(#hatch)"/>
<path d="M1466.7,512.2 H1562.1 V532.6 H1466.7 Z M1471.3,516.8 V528 H1557.5 V516.8 Z" fill="#808080" fill-opacity="0.7"/>
<rect x="1471.3" y="516.8" width="86.2" height="11.2" fill="url(#hatch)"/>
<path d="M1578.7,508.6 H1674.1 V531 H1578.7 Z M1583.3,513.2 V526.4 H1669.5 V513.2 Z" fill="#808080" fill-opacity="0.7"/>
<rect x="1583.3" y="513.2" width="86.2" height="13.2" fill="url(#hatch)"/>
<path d="M1690.7,505.3 H1786.1 V527.7 H1690.7 Z M1695.3,509.9 V523.1 H1781.5 V509.9 Z" fill="#808080" fill-opacity="0.7"/>
<rect x="1695.3" y="509.9" width="86.2" height="13.2" fill="url(#hatch)"/>
<path d="M1802.7,494.8 H1898.1 V516.2 H1802.7 Z M1807.3,499.4 V511.6 H1893.5 V499.4 Z" fill="#808080" fill-opacity="0.7"/>
<rect x="1807.3" y="499.4" width="86.2" height="12.2" fill="url(#hatch)"/>
<path d="M1346.4,521.8 H1458.4 M1346.4,513.8 V529.8 M1458.4,513.8 V529.8 M1402.4,509.99 V533.61 M1394.2,509.99 H1410.6 M1394.2,533.61 H1410.6" stroke="#000" stroke-width="2.6" fill="none"/>
<circle cx="1402.4" cy="521.8" r="5.9" fill="#000"/>
<path d="M1458.4,519.5 H1570.4 M1458.4,511.5 V527.5 M1570.4,511.5 V527.5 M1514.4,507.95 V531.05 M1506.2,507.95 H1522.6 M1506.2,531.05 H1522.6" stroke="#000" stroke-width="2.6" fill="none"/>
<circle cx="1514.4" cy="519.5" r="5.9" fill="#000"/>
<path d="M1570.4,521.8 H1682.4 M1570.4,513.8 V529.8 M1682.4,513.8 V529.8 M1626.4,509.99 V533.61 M1618.2,509.99 H1634.6 M1618.2,533.61 H1634.6" stroke="#000" stroke-width="2.6" fill="none"/>
<circle cx="1626.4" cy="521.8" r="5.9" fill="#000"/>
<path d="M1682.4,509.6 H1794.4 M1682.4,501.6 V517.6 M1794.4,501.6 V517.6 M1738.4,499.1 V520.1 M1730.2,499.1 H1746.6 M1730.2,520.1 H1746.6" stroke="#000" stroke-width="2.6" fill="none"/>
<circle cx="1738.4" cy="509.6" r="5.9" fill="#000"/>
<path d="M1794.4,503.7 H1906.4 M1794.4,495.7 V511.7 M1906.4,495.7 V511.7 M1850.4,493.78 V513.62 M1842.2,493.78 H1858.6 M1842.2,513.62 H1858.6" stroke="#000" stroke-width="2.6" fill="none"/>
<circle cx="1850.4" cy="503.7" r="5.9" fill="#000"/>
</g>
<clipPath id="cliprb2"><rect x="1346.4" y="825" width="560" height="213.3"/></clipPath>
<g clip-path="url(#cliprb2)">
<path d="M1346.4,868.7 L1458.4,868.7 L1458.4,859.2 L1570.4,859.2 L1570.4,866.8 L1682.4,866.8 L1682.4,862.2 L1794.4,862.2 L1794.4,874.3 L1906.4,874.3 L1906.4,973.6 L1794.4,973.6 L1794.4,980.2 L1682.4,980.2 L1682.4,976.9 L1570.4,976.9 L1570.4,981.2 L1458.4,981.2 L1458.4,975.3 L1346.4,975.3 Z" fill="#b3b3b3"/>
<line x1="1346.4" y1="931.3" x2="1906.4" y2="931.3" stroke="#000" stroke-width="3.2" stroke-dasharray="11.5,4.8" stroke-dashoffset="1.4"/>
<path d="M1402.4,909.8 V975 M1396.2,909.8 H1408.6 M1396.2,975 H1408.6" stroke="#000" stroke-width="2.5" fill="none"/>
<path d="M1514.4,887.6 V959.6 M1508.2,887.6 H1520.6 M1508.2,959.6 H1520.6" stroke="#000" stroke-width="2.5" fill="none"/>
<path d="M1626.4,905.6 V973.2 M1620.2,905.6 H1632.6 M1620.2,973.2 H1632.6" stroke="#000" stroke-width="2.5" fill="none"/>
<path d="M1738.4,879.3 V948.3 M1732.2,879.3 H1744.6 M1732.2,948.3 H1744.6" stroke="#000" stroke-width="2.5" fill="none"/>
<path d="M1850.4,896.3 V957.5 M1844.2,896.3 H1856.6 M1844.2,957.5 H1856.6" stroke="#000" stroke-width="2.5" fill="none"/>
<path d="M1402.4,960.8 V1006.8 M1396.2,960.8 H1408.6 M1396.2,1006.8 H1408.6" stroke="#ff0000" stroke-width="2.5" fill="none"/>
<path d="M1514.4,917.7 V978.9 M1508.2,917.7 H1520.6 M1508.2,978.9 H1520.6" stroke="#ff0000" stroke-width="2.5" fill="none"/>
<path d="M1626.4,944.2 V997.2 M1620.2,944.2 H1632.6 M1620.2,997.2 H1632.6" stroke="#ff0000" stroke-width="2.5" fill="none"/>
<path d="M1738.4,905.7 V965.9 M1732.2,905.7 H1744.6 M1732.2,965.9 H1744.6" stroke="#ff0000" stroke-width="2.5" fill="none"/>
<path d="M1850.4,939.6 V986.6 M1844.2,939.6 H1856.6 M1844.2,986.6 H1856.6" stroke="#ff0000" stroke-width="2.5" fill="none"/>
<circle cx="1402.4" cy="983.8" r="5.9" fill="#ff0000"/>
<circle cx="1514.4" cy="948.3" r="5.9" fill="#ff0000"/>
<circle cx="1626.4" cy="970.7" r="5.9" fill="#ff0000"/>
<circle cx="1738.4" cy="935.8" r="5.9" fill="#ff0000"/>
<circle cx="1850.4" cy="963.1" r="5.9" fill="#ff0000"/>
<circle cx="1402.4" cy="942.4" r="5.9" fill="#000"/>
<circle cx="1514.4" cy="923.6" r="5.9" fill="#000"/>
<circle cx="1626.4" cy="939.4" r="5.9" fill="#000"/>
<circle cx="1738.4" cy="913.8" r="5.9" fill="#000"/>
<circle cx="1850.4" cy="926.9" r="5.9" fill="#000"/>
</g>
<rect x="680" y="98.5" width="1200" height="201.5" fill="#fff"/>
<path d="M260,80 V102 M260,792.2 V770.2 M260,825 V847 M260,1038.3 V1016.3 M316,80 V102 M316,792.2 V770.2 M316,825 V847 M316,1038.3 V1016.3 M372,80 V102 M372,792.2 V770.2 M372,825 V847 M372,1038.3 V1016.3 M428,80 V102 M428,792.2 V770.2 M428,825 V847 M428,1038.3 V1016.3 M484,80 V102 M484,792.2 V770.2 M484,825 V847 M484,1038.3 V1016.3 M540,80 V102 M540,792.2 V770.2 M540,825 V847 M540,1038.3 V1016.3 M596,80 V102 M596,792.2 V770.2 M596,825 V847 M596,1038.3 V1016.3 M652,80 V102 M652,792.2 V770.2 M652,825 V847 M652,1038.3 V1016.3 M708,80 V102 M708,792.2 V770.2 M708,825 V847 M708,1038.3 V1016.3 M204,756.47 H216.5 M764,756.47 H751.5 M204,735.57 H216.5 M764,735.57 H751.5 M204,720.74 H216.5 M764,720.74 H751.5 M204,709.23 H216.5 M764,709.23 H751.5 M204,699.83 H216.5 M764,699.83 H751.5 M204,691.89 H216.5 M764,691.89 H751.5 M204,685 H216.5 M764,685 H751.5 M204,678.93 H216.5 M764,678.93 H751.5 M204,673.5 H228.5 M764,673.5 H739.5 M204,637.77 H216.5 M764,637.77 H751.5 M204,616.87 H216.5 M764,616.87 H751.5 M204,602.04 H216.5 M764,602.04 H751.5 M204,590.53 H216.5 M764,590.53 H751.5 M204,581.13 H216.5 M764,581.13 H751.5 M204,573.19 H216.5 M764,573.19 H751.5 M204,566.3 H216.5 M764,566.3 H751.5 M204,560.23 H216.5 M764,560.23 H751.5 M204,554.8 H228.5 M764,554.8 H739.5 M204,519.07 H216.5 M764,519.07 H751.5 M204,498.17 H216.5 M764,498.17 H751.5 M204,483.34 H216.5 M764,483.34 H751.5 M204,471.83 H216.5 M764,471.83 H751.5 M204,462.43 H216.5 M764,462.43 H751.5 M204,454.49 H216.5 M764,454.49 H751.5 M204,447.6 H216.5 M764,447.6 H751.5 M204,441.53 H216.5 M764,441.53 H751.5 M204,436.1 H228.5 M764,436.1 H739.5 M204,400.37 H216.5 M764,400.37 H751.5 M204,379.47 H216.5 M764,379.47 H751.5 M204,364.64 H216.5 M764,364.64 H751.5 M204,353.13 H216.5 M764,353.13 H751.5 M204,343.73 H216.5 M764,343.73 H751.5 M204,335.79 H216.5 M764,335.79 H751.5 M204,328.9 H216.5 M764,328.9 H751.5 M204,322.83 H216.5 M764,322.83 H751.5 M204,317.4 H228.5 M764,317.4 H739.5 M204,281.67 H216.5 M764,281.67 H751.5 M204,260.77 H216.5 M764,260.77 H751.5 M204,245.94 H216.5 M764,245.94 H751.5 M204,234.43 H216.5 M764,234.43 H751.5 M204,225.03 H216.5 M764,225.03 H751.5 M204,217.09 H216.5 M764,217.09 H751.5 M204,210.2 H216.5 M764,210.2 H751.5 M204,204.13 H216.5 M764,204.13 H751.5 M204,198.7 H228.5 M764,198.7 H739.5 M204,162.97 H216.5 M764,162.97 H751.5 M204,142.07 H216.5 M764,142.07 H751.5 M204,127.24 H216.5 M764,127.24 H751.5 M204,115.73 H216.5 M764,115.73 H751.5 M204,106.33 H216.5 M764,106.33 H751.5 M204,98.39 H216.5 M764,98.39 H751.5 M204,91.5 H216.5 M764,91.5 H751.5 M204,85.43 H216.5 M764,85.43 H751.5 M204,1023.34 H215 M764,1023.34 H753 M204,1008 H227 M764,1008 H741 M204,992.66 H215 M764,992.66 H753 M204,977.32 H215 M764,977.32 H753 M204,961.98 H215 M764,961.98 H753 M204,946.64 H215 M764,946.64 H753 M204,931.3 H227 M764,931.3 H741 M204,915.96 H215 M764,915.96 H753 M204,900.62 H215 M764,900.62 H753 M204,885.28 H215 M764,885.28 H753 M204,869.94 H215 M764,869.94 H753 M204,854.6 H227 M764,854.6 H741 M204,839.26 H215 M764,839.26 H753 M837.42,80 V102 M837.42,792.2 V770.2 M837.42,825 V847 M837.42,1038.3 V1016.3 M899.64,80 V102 M899.64,792.2 V770.2 M899.64,825 V847 M899.64,1038.3 V1016.3 M961.87,80 V102 M961.87,792.2 V770.2 M961.87,825 V847 M961.87,1038.3 V1016.3 M1024.09,80 V102 M1024.09,792.2 V770.2 M1024.09,825 V847 M1024.09,1038.3 V1016.3 M1086.31,80 V102 M1086.31,792.2 V770.2 M1086.31,825 V847 M1086.31,1038.3 V1016.3 M1148.53,80 V102 M1148.53,792.2 V770.2 M1148.53,825 V847 M1148.53,1038.3 V1016.3 M1210.76,80 V102 M1210.76,792.2 V770.2 M1210.76,825 V847 M1210.76,1038.3 V1016.3 M1272.98,80 V102 M1272.98,792.2 V770.2 M1272.98,825 V847 M1272.98,1038.3 V1016.3 M775.2,756.47 H787.7 M1335.2,756.47 H1322.7 M775.2,735.57 H787.7 M1335.2,735.57 H1322.7 M775.2,720.74 H787.7 M1335.2,720.74 H1322.7 M775.2,709.23 H787.7 M1335.2,709.23 H1322.7 M775.2,699.83 H787.7 M1335.2,699.83 H1322.7 M775.2,691.89 H787.7 M1335.2,691.89 H1322.7 M775.2,685 H787.7 M1335.2,685 H1322.7 M775.2,678.93 H787.7 M1335.2,678.93 H1322.7 M775.2,673.5 H799.7 M1335.2,673.5 H1310.7 M775.2,637.77 H787.7 M1335.2,637.77 H1322.7 M775.2,616.87 H787.7 M1335.2,616.87 H1322.7 M775.2,602.04 H787.7 M1335.2,602.04 H1322.7 M775.2,590.53 H787.7 M1335.2,590.53 H1322.7 M775.2,581.13 H787.7 M1335.2,581.13 H1322.7 M775.2,573.19 H787.7 M1335.2,573.19 H1322.7 M775.2,566.3 H787.7 M1335.2,566.3 H1322.7 M775.2,560.23 H787.7 M1335.2,560.23 H1322.7 M775.2,554.8 H799.7 M1335.2,554.8 H1310.7 M775.2,519.07 H787.7 M1335.2,519.07 H1322.7 M775.2,498.17 H787.7 M1335.2,498.17 H1322.7 M775.2,483.34 H787.7 M1335.2,483.34 H1322.7 M775.2,471.83 H787.7 M1335.2,471.83 H1322.7 M775.2,462.43 H787.7 M1335.2,462.43 H1322.7 M775.2,454.49 H787.7 M1335.2,454.49 H1322.7 M775.2,447.6 H787.7 M1335.2,447.6 H1322.7 M775.2,441.53 H787.7 M1335.2,441.53 H1322.7 M775.2,436.1 H799.7 M1335.2,436.1 H1310.7 M775.2,400.37 H787.7 M1335.2,400.37 H1322.7 M775.2,379.47 H787.7 M1335.2,379.47 H1322.7 M775.2,364.64 H787.7 M1335.2,364.64 H1322.7 M775.2,353.13 H787.7 M1335.2,353.13 H1322.7 M775.2,343.73 H787.7 M1335.2,343.73 H1322.7 M775.2,335.79 H787.7 M1335.2,335.79 H1322.7 M775.2,328.9 H787.7 M1335.2,328.9 H1322.7 M775.2,322.83 H787.7 M1335.2,322.83 H1322.7 M775.2,317.4 H799.7 M1335.2,317.4 H1310.7 M775.2,281.67 H787.7 M1335.2,281.67 H1322.7 M775.2,260.77 H787.7 M1335.2,260.77 H1322.7 M775.2,245.94 H787.7 M1335.2,245.94 H1322.7 M775.2,234.43 H787.7 M1335.2,234.43 H1322.7 M775.2,225.03 H787.7 M1335.2,225.03 H1322.7 M775.2,217.09 H787.7 M1335.2,217.09 H1322.7 M775.2,210.2 H787.7 M1335.2,210.2 H1322.7 M775.2,204.13 H787.7 M1335.2,204.13 H1322.7 M775.2,198.7 H799.7 M1335.2,198.7 H1310.7 M775.2,162.97 H787.7 M1335.2,162.97 H1322.7 M775.2,142.07 H787.7 M1335.2,142.07 H1322.7 M775.2,127.24 H787.7 M1335.2,127.24 H1322.7 M775.2,115.73 H787.7 M1335.2,115.73 H1322.7 M775.2,106.33 H787.7 M1335.2,106.33 H1322.7 M775.2,98.39 H787.7 M1335.2,98.39 H1322.7 M775.2,91.5 H787.7 M1335.2,91.5 H1322.7 M775.2,85.43 H787.7 M1335.2,85.43 H1322.7 M775.2,1023.34 H786.2 M1335.2,1023.34 H1324.2 M775.2,1008 H798.2 M1335.2,1008 H1312.2 M775.2,992.66 H786.2 M1335.2,992.66 H1324.2 M775.2,977.32 H786.2 M1335.2,977.32 H1324.2 M775.2,961.98 H786.2 M1335.2,961.98 H1324.2 M775.2,946.64 H786.2 M1335.2,946.64 H1324.2 M775.2,931.3 H798.2 M1335.2,931.3 H1312.2 M775.2,915.96 H786.2 M1335.2,915.96 H1324.2 M775.2,900.62 H786.2 M1335.2,900.62 H1324.2 M775.2,885.28 H786.2 M1335.2,885.28 H1324.2 M775.2,869.94 H786.2 M1335.2,869.94 H1324.2 M775.2,854.6 H798.2 M1335.2,854.6 H1312.2 M775.2,839.26 H786.2 M1335.2,839.26 H1324.2 M1458.4,80 V102 M1458.4,792.2 V770.2 M1458.4,825 V847 M1458.4,1038.3 V1016.3 M1570.4,80 V102 M1570.4,792.2 V770.2 M1570.4,825 V847 M1570.4,1038.3 V1016.3 M1682.4,80 V102 M1682.4,792.2 V770.2 M1682.4,825 V847 M1682.4,1038.3 V1016.3 M1794.4,80 V102 M1794.4,792.2 V770.2 M1794.4,825 V847 M1794.4,1038.3 V1016.3 M1346.4,756.47 H1358.9 M1906.4,756.47 H1893.9 M1346.4,735.57 H1358.9 M1906.4,735.57 H1893.9 M1346.4,720.74 H1358.9 M1906.4,720.74 H1893.9 M1346.4,709.23 H1358.9 M1906.4,709.23 H1893.9 M1346.4,699.83 H1358.9 M1906.4,699.83 H1893.9 M1346.4,691.89 H1358.9 M1906.4,691.89 H1893.9 M1346.4,685 H1358.9 M1906.4,685 H1893.9 M1346.4,678.93 H1358.9 M1906.4,678.93 H1893.9 M1346.4,673.5 H1370.9 M1906.4,673.5 H1881.9 M1346.4,637.77 H1358.9 M1906.4,637.77 H1893.9 M1346.4,616.87 H1358.9 M1906.4,616.87 H1893.9 M1346.4,602.04 H1358.9 M1906.4,602.04 H1893.9 M1346.4,590.53 H1358.9 M1906.4,590.53 H1893.9 M1346.4,581.13 H1358.9 M1906.4,581.13 H1893.9 M1346.4,573.19 H1358.9 M1906.4,573.19 H1893.9 M1346.4,566.3 H1358.9 M1906.4,566.3 H1893.9 M1346.4,560.23 H1358.9 M1906.4,560.23 H1893.9 M1346.4,554.8 H1370.9 M1906.4,554.8 H1881.9 M1346.4,519.07 H1358.9 M1906.4,519.07 H1893.9 M1346.4,498.17 H1358.9 M1906.4,498.17 H1893.9 M1346.4,483.34 H1358.9 M1906.4,483.34 H1893.9 M1346.4,471.83 H1358.9 M1906.4,471.83 H1893.9 M1346.4,462.43 H1358.9 M1906.4,462.43 H1893.9 M1346.4,454.49 H1358.9 M1906.4,454.49 H1893.9 M1346.4,447.6 H1358.9 M1906.4,447.6 H1893.9 M1346.4,441.53 H1358.9 M1906.4,441.53 H1893.9 M1346.4,436.1 H1370.9 M1906.4,436.1 H1881.9 M1346.4,400.37 H1358.9 M1906.4,400.37 H1893.9 M1346.4,379.47 H1358.9 M1906.4,379.47 H1893.9 M1346.4,364.64 H1358.9 M1906.4,364.64 H1893.9 M1346.4,353.13 H1358.9 M1906.4,353.13 H1893.9 M1346.4,343.73 H1358.9 M1906.4,343.73 H1893.9 M1346.4,335.79 H1358.9 M1906.4,335.79 H1893.9 M1346.4,328.9 H1358.9 M1906.4,328.9 H1893.9 M1346.4,322.83 H1358.9 M1906.4,322.83 H1893.9 M1346.4,317.4 H1370.9 M1906.4,317.4 H1881.9 M1346.4,281.67 H1358.9 M1906.4,281.67 H1893.9 M1346.4,260.77 H1358.9 M1906.4,260.77 H1893.9 M1346.4,245.94 H1358.9 M1906.4,245.94 H1893.9 M1346.4,234.43 H1358.9 M1906.4,234.43 H1893.9 M1346.4,225.03 H1358.9 M1906.4,225.03 H1893.9 M1346.4,217.09 H1358.9 M1906.4,217.09 H1893.9 M1346.4,210.2 H1358.9 M1906.4,210.2 H1893.9 M1346.4,204.13 H1358.9 M1906.4,204.13 H1893.9 M1346.4,198.7 H1370.9 M1906.4,198.7 H1881.9 M1346.4,162.97 H1358.9 M1906.4,162.97 H1893.9 M1346.4,142.07 H1358.9 M1906.4,142.07 H1893.9 M1346.4,127.24 H1358.9 M1906.4,127.24 H1893.9 M1346.4,115.73 H1358.9 M1906.4,115.73 H1893.9 M1346.4,106.33 H1358.9 M1906.4,106.33 H1893.9 M1346.4,98.39 H1358.9 M1906.4,98.39 H1893.9 M1346.4,91.5 H1358.9 M1906.4,91.5 H1893.9 M1346.4,85.43 H1358.9 M1906.4,85.43 H1893.9 M1346.4,1023.34 H1357.4 M1906.4,1023.34 H1895.4 M1346.4,1008 H1369.4 M1906.4,1008 H1883.4 M1346.4,992.66 H1357.4 M1906.4,992.66 H1895.4 M1346.4,977.32 H1357.4 M1906.4,977.32 H1895.4 M1346.4,961.98 H1357.4 M1906.4,961.98 H1895.4 M1346.4,946.64 H1357.4 M1906.4,946.64 H1895.4 M1346.4,931.3 H1369.4 M1906.4,931.3 H1883.4 M1346.4,915.96 H1357.4 M1906.4,915.96 H1895.4 M1346.4,900.62 H1357.4 M1906.4,900.62 H1895.4 M1346.4,885.28 H1357.4 M1906.4,885.28 H1895.4 M1346.4,869.94 H1357.4 M1906.4,869.94 H1895.4 M1346.4,854.6 H1369.4 M1906.4,854.6 H1883.4 M1346.4,839.26 H1357.4 M1906.4,839.26 H1895.4" stroke="#000" stroke-width="2.1" fill="none"/>
<rect x="680" y="98.5" width="1200" height="201.5" fill="#fff"/>
<rect x="230" y="838" width="518" height="50" fill="#fff"/>
<rect x="204" y="80" width="560" height="712.2" fill="none" stroke="#000" stroke-width="4"/>
<rect x="204" y="825" width="560" height="213.3" fill="none" stroke="#000" stroke-width="4"/>
<rect x="775.2" y="80" width="560" height="712.2" fill="none" stroke="#000" stroke-width="4"/>
<rect x="775.2" y="825" width="560" height="213.3" fill="none" stroke="#000" stroke-width="4"/>
<rect x="1346.4" y="80" width="560" height="712.2" fill="none" stroke="#000" stroke-width="4"/>
<rect x="1346.4" y="825" width="560" height="213.3" fill="none" stroke="#000" stroke-width="4"/>
<rect x="745" y="98.5" width="1135" height="201.5" fill="#fff"/>
<g style='font-family:"Liberation Sans",sans-serif;font-kerning:none;font-variant-ligatures:none' stroke="#000" stroke-width="0.9"><text x="203" y="64.3" font-size="69" font-weight="bold">CMS</text><text x="1515" y="62.7" font-size="49.6">101 fb</text><text x="1654.3" y="44.9" font-size="34.7">−1</text><text x="1709.3" y="62.7" font-size="49.6">(13 TeV)</text><text transform="translate(77,364.8) rotate(-90)" font-size="61">Events/bin</text><text transform="translate(65.5,1116.9) rotate(-90)" font-size="61">Data/Pred.</text><text x="196" y="809.2" font-size="49" text-anchor="end">10<tspan font-size="33" dy="-18.5">−1</tspan></text><text x="1914" y="809.2" font-size="49">10<tspan font-size="33" dy="-18.5">−1</tspan></text><text x="196" y="690.5" font-size="49" text-anchor="end">10<tspan font-size="33" dy="-18.5">0</tspan></text><text x="1914" y="690.5" font-size="49">10<tspan font-size="33" dy="-18.5">0</tspan></text><text x="196" y="571.8" font-size="49" text-anchor="end">10<tspan font-size="33" dy="-18.5">1</tspan></text><text x="1914" y="571.8" font-size="49">10<tspan font-size="33" dy="-18.5">1</tspan></text><text x="196" y="453.1" font-size="49" text-anchor="end">10<tspan font-size="33" dy="-18.5">2</tspan></text><text x="1914" y="453.1" font-size="49">10<tspan font-size="33" dy="-18.5">2</tspan></text><text x="196" y="334.4" font-size="49" text-anchor="end">10<tspan font-size="33" dy="-18.5">3</tspan></text><text x="1914" y="334.4" font-size="49">10<tspan font-size="33" dy="-18.5">3</tspan></text><text x="196" y="215.7" font-size="49" text-anchor="end">10<tspan font-size="33" dy="-18.5">4</tspan></text><text x="1914" y="215.7" font-size="49">10<tspan font-size="33" dy="-18.5">4</tspan></text><text x="196" y="97" font-size="49" text-anchor="end">10<tspan font-size="33" dy="-18.5">5</tspan></text><text x="1914" y="97" font-size="49">10<tspan font-size="33" dy="-18.5">5</tspan></text><text x="197" y="872.1" font-size="49" text-anchor="end">1.5</text><text x="1914" y="872.1" font-size="49">1.5</text><text x="197" y="948.8" font-size="49" text-anchor="end">1.0</text><text x="1914" y="948.8" font-size="49">1.0</text><text x="197" y="1025.5" font-size="49" text-anchor="end">0.5</text><text x="1914" y="1025.5" font-size="49">0.5</text><text x="204" y="1086.3" font-size="49" text-anchor="middle">70</text><text x="316" y="1086.3" font-size="49" text-anchor="middle">88</text><text x="428" y="1086.3" font-size="49" text-anchor="middle">106</text><text x="540" y="1086.3" font-size="49" text-anchor="middle">124</text><text x="652" y="1086.3" font-size="49" text-anchor="middle">142</text><text x="764" y="1086.3" font-size="49" text-anchor="middle">160</text><text x="899.64" y="1086.3" font-size="49" text-anchor="middle">90</text><text x="1024.09" y="1086.3" font-size="49" text-anchor="middle">110</text><text x="1148.53" y="1086.3" font-size="49" text-anchor="middle">130</text><text x="1272.98" y="1086.3" font-size="49" text-anchor="middle">150</text><text x="1346.4" y="1086.3" font-size="49" text-anchor="middle">70</text><text x="1458.4" y="1086.3" font-size="49" text-anchor="middle">88</text><text x="1570.4" y="1086.3" font-size="49" text-anchor="middle">106</text><text x="1682.4" y="1086.3" font-size="49" text-anchor="middle">124</text><text x="1794.4" y="1086.3" font-size="49" text-anchor="middle">142</text><text x="1906.4" y="1086.3" font-size="49" text-anchor="middle">160</text><text x="1619.1" y="1162.8" font-size="62">m</text><text x="1671.6" y="1171.7" font-size="40.8">SD</text><text x="1748" y="1162.8" font-size="62">[GeV]</text><text x="231.4" y="152.7" font-size="53.3">t(μ) CR</text><text x="231.8" y="210.5" font-size="53.3">merged</text><text x="359.9" y="322.9" font-size="40.8" fill="#0000ff" stroke="#0000ff">U:</text><text x="411.9" y="322.9" font-size="40.8" fill="#0000ff" stroke="#0000ff">[250</text><text x="528" y="322.9" font-size="40.8" fill="#0000ff" stroke="#0000ff">350]</text><text x="956" y="344.3" font-size="40.8" fill="#0000ff" stroke="#0000ff">[350</text><text x="1072.2" y="344.3" font-size="40.8" fill="#0000ff" stroke="#0000ff">500]</text><text x="1514.8" y="344.3" font-size="40.8" fill="#0000ff" stroke="#0000ff">[</text><text x="1563.6" y="344.3" font-size="40.8" fill="#0000ff" stroke="#0000ff">500]</text><text x="1653.8" y="344.3" font-size="40.8" fill="#0000ff" stroke="#0000ff">GeV</text><text x="766" y="151" font-size="40.8">Data</text><text x="766" y="210.5" font-size="40.8">Stat. + syst. uncertainty</text><text x="766" y="266.7" font-size="40.8">tt</text><text x="1323" y="150" font-size="40.8">Single t</text><text x="1324.9" y="209" font-size="40.8">W(</text><text x="1378" y="209" font-size="40.8">ℓ</text><text x="1396" y="209" font-size="40.8" transform="translate(1396,0) scale(1.06,1) translate(-1396,0)">ν</text><text x="1418.2" y="209" font-size="40.8">)+jets</text><text x="1652" y="150" font-size="40.8">WW/WZ/ZZ</text><text x="1651.6" y="209" font-size="40.8">Z(</text><text x="1691.6" y="209" font-size="40.8">ℓ</text><text x="1708.6" y="209" font-size="40.8">ℓ</text><text x="1726.4" y="209" font-size="40.8">)+jets</text><text x="296" y="874.2" font-size="28.4">Post-fit</text><text x="450" y="874.2" font-size="28.4">Pre-fit</text><text x="591" y="874.2" font-size="28.4">Uncertainty</text></g>
<path d="M1538.5,321.8 L1551.5,333.9 L1538.5,346" stroke="#0000ff" stroke-width="3" fill="none"/>
<rect x="500.7" y="311.4" width="18.2" height="3.5" fill="#0000ff"/><rect x="1045.2" y="331.6" width="18.5" height="3.5" fill="#0000ff"/>
<rect x="780.5" y="233.3" width="9.5" height="2.6" fill="#000"/>
<path d="M682,136.7 H724.6 M683.2,129.2 V144.2 M723.4,129.2 V144.2 M703.5,115.3 V157.8 M696,116.5 H711 M696,156.6 H711" stroke="#000" stroke-width="2.4" fill="none"/>
<circle cx="703.5" cy="136.7" r="5" fill="#000"/>
<rect x="672.5" y="182.9" width="60.7" height="27" fill="url(#hatchL)" stroke="#a6a6a6" stroke-width="4.6"/>
<rect x="673" y="241.2" width="60.8" height="28.2" fill="#f89c20"/>
<rect x="1230.8" y="123.1" width="61.3" height="27.8" fill="#e42536"/>
<rect x="1230.8" y="182.1" width="61.3" height="28.5" fill="#5790fc"/>
<rect x="1558.5" y="123.1" width="61.3" height="27.8" fill="#9c9ca1"/>
<rect x="1558.5" y="182.1" width="61.3" height="28.5" fill="#92dadd"/>
<path d="M266,850 V878.6 M259.8,850 H272.2 M259.8,878.6 H272.2" stroke="#000" stroke-width="2.5" fill="none"/>
<circle cx="266" cy="863.9" r="5.9" fill="#000"/>
<path d="M420.4,850 V878.6 M414.2,850 H426.6 M414.2,878.6 H426.6" stroke="#ff0000" stroke-width="2.5" fill="none"/>
<circle cx="420.4" cy="863.9" r="5.9" fill="#ff0000"/>
<rect x="540" y="854.2" width="42.9" height="20" fill="#b3b3b3"/>
</g>
<rect x="0" y="0" width="7" height="1198" fill="#000"/>
<rect x="0" y="1193" width="2024" height="5" fill="#000"/>
<rect x="2017" y="1193" width="7" height="1198" fill="#000"/>
</svg></body></html>
